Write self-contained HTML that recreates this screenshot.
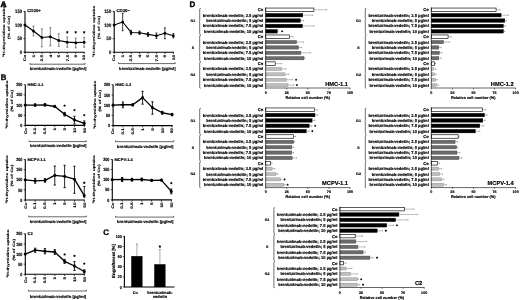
<!DOCTYPE html>
<html><head><meta charset="utf-8"><title>Figure</title>
<style>html,body{margin:0;padding:0;background:#fff;overflow:hidden}svg{display:block;font-family:"Liberation Sans",sans-serif;text-rendering:geometricPrecision;filter:grayscale(1)}</style></head>
<body>
<svg width="520" height="300" viewBox="0 0 5200 3000">
<rect x="0" y="0" width="5200" height="3000" fill="#fff"/>
<text font-size="80" text-anchor="start" fill="#000" font-weight="bold" stroke="#000" stroke-width="6" stroke-linejoin="round" transform="translate(6 70) scale(1.05 1)">A</text>
<text font-size="80" text-anchor="start" fill="#000" font-weight="bold" stroke="#000" stroke-width="3.5" stroke-linejoin="round" transform="translate(7 802) scale(0.97 1)">B</text>
<text font-size="80" text-anchor="start" fill="#000" font-weight="bold" stroke="#000" stroke-width="3.5" stroke-linejoin="round" transform="translate(1033 2345)">C</text>
<text font-size="80" text-anchor="start" fill="#000" font-weight="bold" stroke="#000" stroke-width="3" stroke-linejoin="round" transform="translate(1895 69)">D</text>
<line x1="250" y1="111" x2="250" y2="527.5" stroke="#000" stroke-width="11" stroke-linecap="butt"/>
<line x1="244.5" y1="522" x2="847.5" y2="522" stroke="#000" stroke-width="11" stroke-linecap="butt"/>
<line x1="234" y1="522" x2="250" y2="522" stroke="#000" stroke-width="7" stroke-linecap="butt"/>
<text font-size="46" text-anchor="end" fill="#000" font-weight="bold" stroke="#000" stroke-width="1.6" stroke-linejoin="round" transform="translate(220 539.9) scale(0.9 1.1)">0</text>
<line x1="234" y1="386" x2="250" y2="386" stroke="#000" stroke-width="7" stroke-linecap="butt"/>
<text font-size="46" text-anchor="end" fill="#000" font-weight="bold" stroke="#000" stroke-width="1.6" stroke-linejoin="round" transform="translate(220 403.9) scale(0.9 1.1)">50</text>
<line x1="234" y1="250" x2="250" y2="250" stroke="#000" stroke-width="7" stroke-linecap="butt"/>
<text font-size="46" text-anchor="end" fill="#000" font-weight="bold" stroke="#000" stroke-width="1.6" stroke-linejoin="round" transform="translate(220 267.9) scale(0.9 1.1)">100</text>
<line x1="234" y1="114" x2="250" y2="114" stroke="#000" stroke-width="7" stroke-linecap="butt"/>
<text font-size="46" text-anchor="end" fill="#000" font-weight="bold" stroke="#000" stroke-width="1.6" stroke-linejoin="round" transform="translate(220 131.9) scale(0.9 1.1)">150</text>
<line x1="250" y1="522" x2="250" y2="540" stroke="#000" stroke-width="7" stroke-linecap="butt"/>
<text font-size="49" text-anchor="end" fill="#000" font-weight="bold" stroke="#000" stroke-width="1.6" stroke-linejoin="round" transform="translate(262.5 547.5) rotate(-90) scale(1 0.7551020408163265)">Co</text>
<line x1="334.5" y1="522" x2="334.5" y2="540" stroke="#000" stroke-width="7" stroke-linecap="butt"/>
<text font-size="49" text-anchor="end" fill="#000" font-weight="bold" stroke="#000" stroke-width="1.6" stroke-linejoin="round" transform="translate(347 547.5) rotate(-90) scale(1 0.7551020408163265)">1</text>
<line x1="419" y1="522" x2="419" y2="540" stroke="#000" stroke-width="7" stroke-linecap="butt"/>
<text font-size="49" text-anchor="end" fill="#000" font-weight="bold" stroke="#000" stroke-width="1.6" stroke-linejoin="round" transform="translate(431.5 547.5) rotate(-90) scale(1 0.7551020408163265)">2.5</text>
<line x1="503.5" y1="522" x2="503.5" y2="540" stroke="#000" stroke-width="7" stroke-linecap="butt"/>
<text font-size="49" text-anchor="end" fill="#000" font-weight="bold" stroke="#000" stroke-width="1.6" stroke-linejoin="round" transform="translate(516 547.5) rotate(-90) scale(1 0.7551020408163265)">4</text>
<line x1="588" y1="522" x2="588" y2="540" stroke="#000" stroke-width="7" stroke-linecap="butt"/>
<text font-size="49" text-anchor="end" fill="#000" font-weight="bold" stroke="#000" stroke-width="1.6" stroke-linejoin="round" transform="translate(600.5 547.5) rotate(-90) scale(1 0.7551020408163265)">5</text>
<line x1="672.5" y1="522" x2="672.5" y2="540" stroke="#000" stroke-width="7" stroke-linecap="butt"/>
<text font-size="49" text-anchor="end" fill="#000" font-weight="bold" stroke="#000" stroke-width="1.6" stroke-linejoin="round" transform="translate(685 547.5) rotate(-90) scale(1 0.7551020408163265)">7.5</text>
<line x1="757" y1="522" x2="757" y2="540" stroke="#000" stroke-width="7" stroke-linecap="butt"/>
<text font-size="49" text-anchor="end" fill="#000" font-weight="bold" stroke="#000" stroke-width="1.6" stroke-linejoin="round" transform="translate(769.5 547.5) rotate(-90) scale(1 0.7551020408163265)">9</text>
<line x1="841.5" y1="522" x2="841.5" y2="540" stroke="#000" stroke-width="7" stroke-linecap="butt"/>
<text font-size="49" text-anchor="end" fill="#000" font-weight="bold" stroke="#000" stroke-width="1.6" stroke-linejoin="round" transform="translate(854 547.5) rotate(-90) scale(1 0.7551020408163265)">10</text>
<line x1="300" y1="642" x2="850" y2="642" stroke="#000" stroke-width="6" stroke-linecap="butt"/>
<line x1="300" y1="629" x2="300" y2="645" stroke="#000" stroke-width="6" stroke-linecap="butt"/>
<line x1="850" y1="629" x2="850" y2="645" stroke="#000" stroke-width="6" stroke-linecap="butt"/>
<text font-size="42" text-anchor="middle" fill="#000" font-weight="bold" stroke="#000" stroke-width="1.6" stroke-linejoin="round" transform="translate(580 698)">brentuximab-vedotin [µg/ml]</text>
<text font-size="53.5" text-anchor="middle" fill="#000" font-weight="bold" stroke="#000" stroke-width="1.6" stroke-linejoin="round" transform="translate(53.5 313) rotate(-90) scale(1 0.616822429906542)"><tspan font-size="33.7" dy="-17.1">3</tspan><tspan dy="17.1">H-thymidine uptake</tspan></text>
<text font-size="53.5" text-anchor="middle" fill="#000" font-weight="bold" stroke="#000" stroke-width="1.6" stroke-linejoin="round" transform="translate(96.5 275) rotate(-90) scale(1 0.616822429906542)">(% of Co)</text>
<text font-size="43.5" text-anchor="start" fill="#000" font-weight="bold" stroke="#000" stroke-width="1.6" stroke-linejoin="round" transform="translate(272 122)">CD30+</text>
<line x1="334.5" y1="260.9" x2="334.5" y2="358.8" stroke="#222" stroke-width="5.5" stroke-linecap="butt"/>
<line x1="324.5" y1="260.9" x2="344.5" y2="260.9" stroke="#222" stroke-width="5.5" stroke-linecap="butt"/>
<line x1="324.5" y1="358.8" x2="344.5" y2="358.8" stroke="#222" stroke-width="5.5" stroke-linecap="butt"/>
<line x1="419" y1="288.1" x2="419" y2="467.6" stroke="#222" stroke-width="5.5" stroke-linecap="butt"/>
<line x1="409" y1="288.1" x2="429" y2="288.1" stroke="#222" stroke-width="5.5" stroke-linecap="butt"/>
<line x1="409" y1="467.6" x2="429" y2="467.6" stroke="#222" stroke-width="5.5" stroke-linecap="butt"/>
<line x1="503.5" y1="277.2" x2="503.5" y2="459.4" stroke="#222" stroke-width="5.5" stroke-linecap="butt"/>
<line x1="493.5" y1="277.2" x2="513.5" y2="277.2" stroke="#222" stroke-width="5.5" stroke-linecap="butt"/>
<line x1="493.5" y1="459.4" x2="513.5" y2="459.4" stroke="#222" stroke-width="5.5" stroke-linecap="butt"/>
<line x1="588" y1="337" x2="588" y2="462.2" stroke="#222" stroke-width="5.5" stroke-linecap="butt"/>
<line x1="578" y1="337" x2="598" y2="337" stroke="#222" stroke-width="5.5" stroke-linecap="butt"/>
<line x1="578" y1="462.2" x2="598" y2="462.2" stroke="#222" stroke-width="5.5" stroke-linecap="butt"/>
<line x1="672.5" y1="369.7" x2="672.5" y2="473" stroke="#222" stroke-width="5.5" stroke-linecap="butt"/>
<line x1="662.5" y1="369.7" x2="682.5" y2="369.7" stroke="#222" stroke-width="5.5" stroke-linecap="butt"/>
<line x1="662.5" y1="473" x2="682.5" y2="473" stroke="#222" stroke-width="5.5" stroke-linecap="butt"/>
<line x1="757" y1="380.6" x2="757" y2="478.5" stroke="#222" stroke-width="5.5" stroke-linecap="butt"/>
<line x1="747" y1="380.6" x2="767" y2="380.6" stroke="#222" stroke-width="5.5" stroke-linecap="butt"/>
<line x1="747" y1="478.5" x2="767" y2="478.5" stroke="#222" stroke-width="5.5" stroke-linecap="butt"/>
<line x1="841.5" y1="373.8" x2="841.5" y2="471.7" stroke="#222" stroke-width="5.5" stroke-linecap="butt"/>
<line x1="831.5" y1="373.8" x2="851.5" y2="373.8" stroke="#222" stroke-width="5.5" stroke-linecap="butt"/>
<line x1="831.5" y1="471.7" x2="851.5" y2="471.7" stroke="#222" stroke-width="5.5" stroke-linecap="butt"/>
<polyline points="250,250 334.5,309.8 419,375.1 503.5,367 588,405 672.5,421.4 757,426.8 841.5,422.7" fill="none" stroke="#000" stroke-width="11.5" stroke-linejoin="round"/>
<ellipse cx="250" cy="250" rx="13.5" ry="15" fill="#000"/>
<ellipse cx="334.5" cy="309.8" rx="13.5" ry="15" fill="#000"/>
<ellipse cx="419" cy="375.1" rx="13.5" ry="15" fill="#000"/>
<ellipse cx="503.5" cy="367" rx="13.5" ry="15" fill="#000"/>
<ellipse cx="588" cy="405" rx="13.5" ry="15" fill="#000"/>
<ellipse cx="672.5" cy="421.4" rx="13.5" ry="15" fill="#000"/>
<ellipse cx="757" cy="426.8" rx="13.5" ry="15" fill="#000"/>
<ellipse cx="841.5" cy="422.7" rx="13.5" ry="15" fill="#000"/>
<polygon points="672.5,308.5 677.5,316.1 686.3,318.5 680.6,325.6 681,334.7 672.5,331.5 664,334.7 664.4,325.6 658.7,318.5 667.5,316.1" fill="#000"/>
<polygon points="757,308.5 762,316.1 770.8,318.5 765.1,325.6 765.5,334.7 757,331.5 748.5,334.7 748.9,325.6 743.2,318.5 752,316.1" fill="#000"/>
<polygon points="841.5,308.5 846.5,316.1 855.3,318.5 849.6,325.6 850,334.7 841.5,331.5 833,334.7 833.4,325.6 827.7,318.5 836.5,316.1" fill="#000"/>
<line x1="1142" y1="111" x2="1142" y2="527.5" stroke="#000" stroke-width="11" stroke-linecap="butt"/>
<line x1="1136.5" y1="522" x2="1739.5" y2="522" stroke="#000" stroke-width="11" stroke-linecap="butt"/>
<line x1="1126" y1="522" x2="1142" y2="522" stroke="#000" stroke-width="7" stroke-linecap="butt"/>
<text font-size="46" text-anchor="end" fill="#000" font-weight="bold" stroke="#000" stroke-width="1.6" stroke-linejoin="round" transform="translate(1112 539.9) scale(0.9 1.1)">0</text>
<line x1="1126" y1="386" x2="1142" y2="386" stroke="#000" stroke-width="7" stroke-linecap="butt"/>
<text font-size="46" text-anchor="end" fill="#000" font-weight="bold" stroke="#000" stroke-width="1.6" stroke-linejoin="round" transform="translate(1112 403.9) scale(0.9 1.1)">50</text>
<line x1="1126" y1="250" x2="1142" y2="250" stroke="#000" stroke-width="7" stroke-linecap="butt"/>
<text font-size="46" text-anchor="end" fill="#000" font-weight="bold" stroke="#000" stroke-width="1.6" stroke-linejoin="round" transform="translate(1112 267.9) scale(0.9 1.1)">100</text>
<line x1="1126" y1="114" x2="1142" y2="114" stroke="#000" stroke-width="7" stroke-linecap="butt"/>
<text font-size="46" text-anchor="end" fill="#000" font-weight="bold" stroke="#000" stroke-width="1.6" stroke-linejoin="round" transform="translate(1112 131.9) scale(0.9 1.1)">150</text>
<line x1="1142" y1="522" x2="1142" y2="540" stroke="#000" stroke-width="7" stroke-linecap="butt"/>
<text font-size="49" text-anchor="end" fill="#000" font-weight="bold" stroke="#000" stroke-width="1.6" stroke-linejoin="round" transform="translate(1154.5 547.5) rotate(-90) scale(1 0.7551020408163265)">Co</text>
<line x1="1226.5" y1="522" x2="1226.5" y2="540" stroke="#000" stroke-width="7" stroke-linecap="butt"/>
<text font-size="49" text-anchor="end" fill="#000" font-weight="bold" stroke="#000" stroke-width="1.6" stroke-linejoin="round" transform="translate(1239 547.5) rotate(-90) scale(1 0.7551020408163265)">1</text>
<line x1="1311" y1="522" x2="1311" y2="540" stroke="#000" stroke-width="7" stroke-linecap="butt"/>
<text font-size="49" text-anchor="end" fill="#000" font-weight="bold" stroke="#000" stroke-width="1.6" stroke-linejoin="round" transform="translate(1323.5 547.5) rotate(-90) scale(1 0.7551020408163265)">2.5</text>
<line x1="1395.5" y1="522" x2="1395.5" y2="540" stroke="#000" stroke-width="7" stroke-linecap="butt"/>
<text font-size="49" text-anchor="end" fill="#000" font-weight="bold" stroke="#000" stroke-width="1.6" stroke-linejoin="round" transform="translate(1408 547.5) rotate(-90) scale(1 0.7551020408163265)">4</text>
<line x1="1480" y1="522" x2="1480" y2="540" stroke="#000" stroke-width="7" stroke-linecap="butt"/>
<text font-size="49" text-anchor="end" fill="#000" font-weight="bold" stroke="#000" stroke-width="1.6" stroke-linejoin="round" transform="translate(1492.5 547.5) rotate(-90) scale(1 0.7551020408163265)">5</text>
<line x1="1564.5" y1="522" x2="1564.5" y2="540" stroke="#000" stroke-width="7" stroke-linecap="butt"/>
<text font-size="49" text-anchor="end" fill="#000" font-weight="bold" stroke="#000" stroke-width="1.6" stroke-linejoin="round" transform="translate(1577 547.5) rotate(-90) scale(1 0.7551020408163265)">7.5</text>
<line x1="1649" y1="522" x2="1649" y2="540" stroke="#000" stroke-width="7" stroke-linecap="butt"/>
<text font-size="49" text-anchor="end" fill="#000" font-weight="bold" stroke="#000" stroke-width="1.6" stroke-linejoin="round" transform="translate(1661.5 547.5) rotate(-90) scale(1 0.7551020408163265)">9</text>
<line x1="1733.5" y1="522" x2="1733.5" y2="540" stroke="#000" stroke-width="7" stroke-linecap="butt"/>
<text font-size="49" text-anchor="end" fill="#000" font-weight="bold" stroke="#000" stroke-width="1.6" stroke-linejoin="round" transform="translate(1746 547.5) rotate(-90) scale(1 0.7551020408163265)">10</text>
<line x1="1186" y1="636" x2="1751" y2="636" stroke="#000" stroke-width="6" stroke-linecap="butt"/>
<line x1="1186" y1="623" x2="1186" y2="639" stroke="#000" stroke-width="6" stroke-linecap="butt"/>
<line x1="1751" y1="623" x2="1751" y2="639" stroke="#000" stroke-width="6" stroke-linecap="butt"/>
<text font-size="42" text-anchor="middle" fill="#000" font-weight="bold" stroke="#000" stroke-width="1.6" stroke-linejoin="round" transform="translate(1473.5 700)">brentuximab-vedotin [µg/ml]</text>
<text font-size="53.5" text-anchor="middle" fill="#000" font-weight="bold" stroke="#000" stroke-width="1.6" stroke-linejoin="round" transform="translate(952.5 313) rotate(-90) scale(1 0.616822429906542)"><tspan font-size="33.7" dy="-17.1">3</tspan><tspan dy="17.1">H-thymidine uptake</tspan></text>
<text font-size="53.5" text-anchor="middle" fill="#000" font-weight="bold" stroke="#000" stroke-width="1.6" stroke-linejoin="round" transform="translate(996.5 275) rotate(-90) scale(1 0.616822429906542)">(% of Co)</text>
<text font-size="43.5" text-anchor="start" fill="#000" font-weight="bold" stroke="#000" stroke-width="1.6" stroke-linejoin="round" transform="translate(1164 123)">CD30−</text>
<line x1="1226.5" y1="133" x2="1226.5" y2="307.1" stroke="#000" stroke-width="7.5" stroke-linecap="butt"/>
<line x1="1216.5" y1="133" x2="1236.5" y2="133" stroke="#000" stroke-width="7.5" stroke-linecap="butt"/>
<line x1="1216.5" y1="307.1" x2="1236.5" y2="307.1" stroke="#000" stroke-width="7.5" stroke-linecap="butt"/>
<line x1="1311" y1="303" x2="1311" y2="346.6" stroke="#000" stroke-width="7.5" stroke-linecap="butt"/>
<line x1="1301" y1="303" x2="1321" y2="303" stroke="#000" stroke-width="7.5" stroke-linecap="butt"/>
<line x1="1301" y1="346.6" x2="1321" y2="346.6" stroke="#000" stroke-width="7.5" stroke-linecap="butt"/>
<line x1="1395.5" y1="311.2" x2="1395.5" y2="343.8" stroke="#000" stroke-width="7.5" stroke-linecap="butt"/>
<line x1="1385.5" y1="311.2" x2="1405.5" y2="311.2" stroke="#000" stroke-width="7.5" stroke-linecap="butt"/>
<line x1="1385.5" y1="343.8" x2="1405.5" y2="343.8" stroke="#000" stroke-width="7.5" stroke-linecap="butt"/>
<line x1="1480" y1="324.8" x2="1480" y2="362.9" stroke="#000" stroke-width="7.5" stroke-linecap="butt"/>
<line x1="1470" y1="324.8" x2="1490" y2="324.8" stroke="#000" stroke-width="7.5" stroke-linecap="butt"/>
<line x1="1470" y1="362.9" x2="1490" y2="362.9" stroke="#000" stroke-width="7.5" stroke-linecap="butt"/>
<line x1="1564.5" y1="330.2" x2="1564.5" y2="384.6" stroke="#000" stroke-width="7.5" stroke-linecap="butt"/>
<line x1="1554.5" y1="330.2" x2="1574.5" y2="330.2" stroke="#000" stroke-width="7.5" stroke-linecap="butt"/>
<line x1="1554.5" y1="384.6" x2="1574.5" y2="384.6" stroke="#000" stroke-width="7.5" stroke-linecap="butt"/>
<line x1="1649" y1="278.6" x2="1649" y2="387.4" stroke="#000" stroke-width="7.5" stroke-linecap="butt"/>
<line x1="1639" y1="278.6" x2="1659" y2="278.6" stroke="#000" stroke-width="7.5" stroke-linecap="butt"/>
<line x1="1639" y1="387.4" x2="1659" y2="387.4" stroke="#000" stroke-width="7.5" stroke-linecap="butt"/>
<line x1="1733.5" y1="335.7" x2="1733.5" y2="379.2" stroke="#000" stroke-width="7.5" stroke-linecap="butt"/>
<line x1="1723.5" y1="335.7" x2="1743.5" y2="335.7" stroke="#000" stroke-width="7.5" stroke-linecap="butt"/>
<line x1="1723.5" y1="379.2" x2="1743.5" y2="379.2" stroke="#000" stroke-width="7.5" stroke-linecap="butt"/>
<polyline points="1142,250 1226.5,220.1 1311,324.8 1395.5,327.5 1480,343.8 1564.5,357.4 1649,333 1733.5,357.4" fill="none" stroke="#000" stroke-width="11.5" stroke-linejoin="round"/>
<ellipse cx="1142" cy="250" rx="13.5" ry="15" fill="#000"/>
<ellipse cx="1226.5" cy="220.1" rx="13.5" ry="15" fill="#000"/>
<ellipse cx="1311" cy="324.8" rx="13.5" ry="15" fill="#000"/>
<ellipse cx="1395.5" cy="327.5" rx="13.5" ry="15" fill="#000"/>
<ellipse cx="1480" cy="343.8" rx="13.5" ry="15" fill="#000"/>
<ellipse cx="1564.5" cy="357.4" rx="13.5" ry="15" fill="#000"/>
<ellipse cx="1649" cy="333" rx="13.5" ry="15" fill="#000"/>
<ellipse cx="1733.5" cy="357.4" rx="13.5" ry="15" fill="#000"/>
<line x1="253" y1="844" x2="253" y2="1259.5" stroke="#000" stroke-width="11" stroke-linecap="butt"/>
<line x1="247.5" y1="1254" x2="848.8" y2="1254" stroke="#000" stroke-width="11" stroke-linecap="butt"/>
<line x1="237" y1="1254" x2="253" y2="1254" stroke="#000" stroke-width="7" stroke-linecap="butt"/>
<text font-size="41" text-anchor="end" fill="#000" font-weight="bold" stroke="#000" stroke-width="1.6" stroke-linejoin="round" transform="translate(223 1270) scale(0.9 1.1)">0</text>
<line x1="237" y1="1152.2" x2="253" y2="1152.2" stroke="#000" stroke-width="7" stroke-linecap="butt"/>
<text font-size="41" text-anchor="end" fill="#000" font-weight="bold" stroke="#000" stroke-width="1.6" stroke-linejoin="round" transform="translate(223 1168.2) scale(0.9 1.1)">50</text>
<line x1="237" y1="1050.5" x2="253" y2="1050.5" stroke="#000" stroke-width="7" stroke-linecap="butt"/>
<text font-size="41" text-anchor="end" fill="#000" font-weight="bold" stroke="#000" stroke-width="1.6" stroke-linejoin="round" transform="translate(223 1066.5) scale(0.9 1.1)">100</text>
<line x1="237" y1="948.8" x2="253" y2="948.8" stroke="#000" stroke-width="7" stroke-linecap="butt"/>
<text font-size="41" text-anchor="end" fill="#000" font-weight="bold" stroke="#000" stroke-width="1.6" stroke-linejoin="round" transform="translate(223 964.7) scale(0.9 1.1)">150</text>
<line x1="237" y1="847" x2="253" y2="847" stroke="#000" stroke-width="7" stroke-linecap="butt"/>
<text font-size="41" text-anchor="end" fill="#000" font-weight="bold" stroke="#000" stroke-width="1.6" stroke-linejoin="round" transform="translate(223 863) scale(0.9 1.1)">200</text>
<line x1="253" y1="1254" x2="253" y2="1272" stroke="#000" stroke-width="7" stroke-linecap="butt"/>
<text font-size="46" text-anchor="end" fill="#000" font-weight="bold" stroke="#000" stroke-width="1.6" stroke-linejoin="round" transform="translate(265.5 1279.5) rotate(-90) scale(1 0.8043478260869567)">Co</text>
<line x1="351.3" y1="1254" x2="351.3" y2="1272" stroke="#000" stroke-width="7" stroke-linecap="butt"/>
<text font-size="46" text-anchor="end" fill="#000" font-weight="bold" stroke="#000" stroke-width="1.6" stroke-linejoin="round" transform="translate(363.8 1279.5) rotate(-90) scale(1 0.8043478260869567)">0.1</text>
<line x1="449.6" y1="1254" x2="449.6" y2="1272" stroke="#000" stroke-width="7" stroke-linecap="butt"/>
<text font-size="46" text-anchor="end" fill="#000" font-weight="bold" stroke="#000" stroke-width="1.6" stroke-linejoin="round" transform="translate(462.1 1279.5) rotate(-90) scale(1 0.8043478260869567)">0.5</text>
<line x1="547.9" y1="1254" x2="547.9" y2="1272" stroke="#000" stroke-width="7" stroke-linecap="butt"/>
<text font-size="46" text-anchor="end" fill="#000" font-weight="bold" stroke="#000" stroke-width="1.6" stroke-linejoin="round" transform="translate(560.4 1279.5) rotate(-90) scale(1 0.8043478260869567)">1</text>
<line x1="646.2" y1="1254" x2="646.2" y2="1272" stroke="#000" stroke-width="7" stroke-linecap="butt"/>
<text font-size="46" text-anchor="end" fill="#000" font-weight="bold" stroke="#000" stroke-width="1.6" stroke-linejoin="round" transform="translate(658.7 1279.5) rotate(-90) scale(1 0.8043478260869567)">5</text>
<line x1="744.5" y1="1254" x2="744.5" y2="1272" stroke="#000" stroke-width="7" stroke-linecap="butt"/>
<text font-size="46" text-anchor="end" fill="#000" font-weight="bold" stroke="#000" stroke-width="1.6" stroke-linejoin="round" transform="translate(757 1279.5) rotate(-90) scale(1 0.8043478260869567)">10</text>
<line x1="842.8" y1="1254" x2="842.8" y2="1272" stroke="#000" stroke-width="7" stroke-linecap="butt"/>
<text font-size="46" text-anchor="end" fill="#000" font-weight="bold" stroke="#000" stroke-width="1.6" stroke-linejoin="round" transform="translate(855.3 1279.5) rotate(-90) scale(1 0.8043478260869567)">50</text>
<line x1="292" y1="1416" x2="862" y2="1416" stroke="#000" stroke-width="6" stroke-linecap="butt"/>
<line x1="292" y1="1403" x2="292" y2="1419" stroke="#000" stroke-width="6" stroke-linecap="butt"/>
<line x1="862" y1="1403" x2="862" y2="1419" stroke="#000" stroke-width="6" stroke-linecap="butt"/>
<text font-size="42" text-anchor="middle" fill="#000" font-weight="bold" stroke="#000" stroke-width="1.6" stroke-linejoin="round" transform="translate(582 1474)">brentuximab-vedotin [µg/ml]</text>
<text font-size="50" text-anchor="middle" fill="#000" font-weight="bold" stroke="#000" stroke-width="1.6" stroke-linejoin="round" transform="translate(78 1045.5) rotate(-90) scale(1 0.6599999999999999)"><tspan font-size="31.5" dy="-16">3</tspan><tspan dy="16">H-thymidine uptake</tspan></text>
<text font-size="50" text-anchor="middle" fill="#000" font-weight="bold" stroke="#000" stroke-width="1.6" stroke-linejoin="round" transform="translate(127 1007.5) rotate(-90) scale(1 0.6599999999999999)">(% of Co)</text>
<text font-size="40" text-anchor="start" fill="#000" font-weight="bold" stroke="#000" stroke-width="1.6" stroke-linejoin="round" transform="translate(275 862)">HMC-1.1</text>
<line x1="351.3" y1="1038.3" x2="351.3" y2="1062.7" stroke="#000" stroke-width="8.5" stroke-linecap="butt"/>
<line x1="339.8" y1="1038.3" x2="362.8" y2="1038.3" stroke="#000" stroke-width="8.5" stroke-linecap="butt"/>
<line x1="339.8" y1="1062.7" x2="362.8" y2="1062.7" stroke="#000" stroke-width="8.5" stroke-linecap="butt"/>
<line x1="449.6" y1="1036.3" x2="449.6" y2="1060.7" stroke="#000" stroke-width="8.5" stroke-linecap="butt"/>
<line x1="438.1" y1="1036.3" x2="461.1" y2="1036.3" stroke="#000" stroke-width="8.5" stroke-linecap="butt"/>
<line x1="438.1" y1="1060.7" x2="461.1" y2="1060.7" stroke="#000" stroke-width="8.5" stroke-linecap="butt"/>
<line x1="547.9" y1="1054.6" x2="547.9" y2="1074.9" stroke="#000" stroke-width="8.5" stroke-linecap="butt"/>
<line x1="536.4" y1="1054.6" x2="559.4" y2="1054.6" stroke="#000" stroke-width="8.5" stroke-linecap="butt"/>
<line x1="536.4" y1="1074.9" x2="559.4" y2="1074.9" stroke="#000" stroke-width="8.5" stroke-linecap="butt"/>
<line x1="646.2" y1="1123.8" x2="646.2" y2="1160.4" stroke="#000" stroke-width="8.5" stroke-linecap="butt"/>
<line x1="634.7" y1="1123.8" x2="657.7" y2="1123.8" stroke="#000" stroke-width="8.5" stroke-linecap="butt"/>
<line x1="634.7" y1="1160.4" x2="657.7" y2="1160.4" stroke="#000" stroke-width="8.5" stroke-linecap="butt"/>
<line x1="744.5" y1="1162.4" x2="744.5" y2="1239.8" stroke="#000" stroke-width="8.5" stroke-linecap="butt"/>
<line x1="733" y1="1162.4" x2="756" y2="1162.4" stroke="#000" stroke-width="8.5" stroke-linecap="butt"/>
<line x1="733" y1="1239.8" x2="756" y2="1239.8" stroke="#000" stroke-width="8.5" stroke-linecap="butt"/>
<line x1="842.8" y1="1209.2" x2="842.8" y2="1254" stroke="#000" stroke-width="8.5" stroke-linecap="butt"/>
<line x1="831.3" y1="1209.2" x2="854.3" y2="1209.2" stroke="#000" stroke-width="8.5" stroke-linecap="butt"/>
<line x1="831.3" y1="1254" x2="854.3" y2="1254" stroke="#000" stroke-width="8.5" stroke-linecap="butt"/>
<polyline points="253,1050.5 351.3,1050.5 449.6,1048.5 547.9,1064.7 646.2,1142.1 744.5,1199.1 842.8,1233.7" fill="none" stroke="#000" stroke-width="13.5" stroke-linejoin="round"/>
<ellipse cx="253" cy="1050.5" rx="14.5" ry="16.5" fill="#000"/>
<ellipse cx="351.3" cy="1050.5" rx="14.5" ry="16.5" fill="#000"/>
<ellipse cx="449.6" cy="1048.5" rx="14.5" ry="16.5" fill="#000"/>
<ellipse cx="547.9" cy="1064.7" rx="14.5" ry="16.5" fill="#000"/>
<ellipse cx="646.2" cy="1142.1" rx="14.5" ry="16.5" fill="#000"/>
<ellipse cx="744.5" cy="1199.1" rx="14.5" ry="16.5" fill="#000"/>
<ellipse cx="842.8" cy="1233.7" rx="14.5" ry="16.5" fill="#000"/>
<polygon points="646.2,1042.5 651.2,1050.1 660,1052.5 654.3,1059.6 654.7,1068.7 646.2,1065.5 637.7,1068.7 638.1,1059.6 632.4,1052.5 641.2,1050.1" fill="#000"/>
<polygon points="744.5,1086.5 749.5,1094.1 758.3,1096.5 752.6,1103.6 753,1112.7 744.5,1109.5 736,1112.7 736.4,1103.6 730.7,1096.5 739.5,1094.1" fill="#000"/>
<polygon points="842.8,1136.5 847.8,1144.1 856.6,1146.5 850.9,1153.6 851.3,1162.7 842.8,1159.5 834.3,1162.7 834.7,1153.6 829,1146.5 837.8,1144.1" fill="#000"/>
<line x1="1131" y1="845" x2="1131" y2="1261.5" stroke="#000" stroke-width="11" stroke-linecap="butt"/>
<line x1="1125.5" y1="1256" x2="1726.8" y2="1256" stroke="#000" stroke-width="11" stroke-linecap="butt"/>
<line x1="1115" y1="1256" x2="1131" y2="1256" stroke="#000" stroke-width="7" stroke-linecap="butt"/>
<text font-size="41" text-anchor="end" fill="#000" font-weight="bold" stroke="#000" stroke-width="1.6" stroke-linejoin="round" transform="translate(1101 1272) scale(0.9 1.1)">0</text>
<line x1="1115" y1="1154" x2="1131" y2="1154" stroke="#000" stroke-width="7" stroke-linecap="butt"/>
<text font-size="41" text-anchor="end" fill="#000" font-weight="bold" stroke="#000" stroke-width="1.6" stroke-linejoin="round" transform="translate(1101 1170) scale(0.9 1.1)">50</text>
<line x1="1115" y1="1052" x2="1131" y2="1052" stroke="#000" stroke-width="7" stroke-linecap="butt"/>
<text font-size="41" text-anchor="end" fill="#000" font-weight="bold" stroke="#000" stroke-width="1.6" stroke-linejoin="round" transform="translate(1101 1068) scale(0.9 1.1)">100</text>
<line x1="1115" y1="950" x2="1131" y2="950" stroke="#000" stroke-width="7" stroke-linecap="butt"/>
<text font-size="41" text-anchor="end" fill="#000" font-weight="bold" stroke="#000" stroke-width="1.6" stroke-linejoin="round" transform="translate(1101 966) scale(0.9 1.1)">150</text>
<line x1="1115" y1="848" x2="1131" y2="848" stroke="#000" stroke-width="7" stroke-linecap="butt"/>
<text font-size="41" text-anchor="end" fill="#000" font-weight="bold" stroke="#000" stroke-width="1.6" stroke-linejoin="round" transform="translate(1101 864) scale(0.9 1.1)">200</text>
<line x1="1131" y1="1256" x2="1131" y2="1274" stroke="#000" stroke-width="7" stroke-linecap="butt"/>
<text font-size="46" text-anchor="end" fill="#000" font-weight="bold" stroke="#000" stroke-width="1.6" stroke-linejoin="round" transform="translate(1143.5 1281.5) rotate(-90) scale(1 0.8043478260869567)">Co</text>
<line x1="1229.3" y1="1256" x2="1229.3" y2="1274" stroke="#000" stroke-width="7" stroke-linecap="butt"/>
<text font-size="46" text-anchor="end" fill="#000" font-weight="bold" stroke="#000" stroke-width="1.6" stroke-linejoin="round" transform="translate(1241.8 1281.5) rotate(-90) scale(1 0.8043478260869567)">0.1</text>
<line x1="1327.6" y1="1256" x2="1327.6" y2="1274" stroke="#000" stroke-width="7" stroke-linecap="butt"/>
<text font-size="46" text-anchor="end" fill="#000" font-weight="bold" stroke="#000" stroke-width="1.6" stroke-linejoin="round" transform="translate(1340.1 1281.5) rotate(-90) scale(1 0.8043478260869567)">0.5</text>
<line x1="1425.9" y1="1256" x2="1425.9" y2="1274" stroke="#000" stroke-width="7" stroke-linecap="butt"/>
<text font-size="46" text-anchor="end" fill="#000" font-weight="bold" stroke="#000" stroke-width="1.6" stroke-linejoin="round" transform="translate(1438.4 1281.5) rotate(-90) scale(1 0.8043478260869567)">1</text>
<line x1="1524.2" y1="1256" x2="1524.2" y2="1274" stroke="#000" stroke-width="7" stroke-linecap="butt"/>
<text font-size="46" text-anchor="end" fill="#000" font-weight="bold" stroke="#000" stroke-width="1.6" stroke-linejoin="round" transform="translate(1536.7 1281.5) rotate(-90) scale(1 0.8043478260869567)">5</text>
<line x1="1622.5" y1="1256" x2="1622.5" y2="1274" stroke="#000" stroke-width="7" stroke-linecap="butt"/>
<text font-size="46" text-anchor="end" fill="#000" font-weight="bold" stroke="#000" stroke-width="1.6" stroke-linejoin="round" transform="translate(1635 1281.5) rotate(-90) scale(1 0.8043478260869567)">10</text>
<line x1="1720.8" y1="1256" x2="1720.8" y2="1274" stroke="#000" stroke-width="7" stroke-linecap="butt"/>
<text font-size="46" text-anchor="end" fill="#000" font-weight="bold" stroke="#000" stroke-width="1.6" stroke-linejoin="round" transform="translate(1733.3 1281.5) rotate(-90) scale(1 0.8043478260869567)">50</text>
<line x1="1156" y1="1417" x2="1737" y2="1417" stroke="#000" stroke-width="6" stroke-linecap="butt"/>
<line x1="1156" y1="1404" x2="1156" y2="1420" stroke="#000" stroke-width="6" stroke-linecap="butt"/>
<line x1="1737" y1="1404" x2="1737" y2="1420" stroke="#000" stroke-width="6" stroke-linecap="butt"/>
<text font-size="42" text-anchor="middle" fill="#000" font-weight="bold" stroke="#000" stroke-width="1.6" stroke-linejoin="round" transform="translate(1451.5 1477)">brentuximab-vedotin [µg/ml]</text>
<text font-size="50" text-anchor="middle" fill="#000" font-weight="bold" stroke="#000" stroke-width="1.6" stroke-linejoin="round" transform="translate(960 1047) rotate(-90) scale(1 0.6599999999999999)"><tspan font-size="31.5" dy="-16">3</tspan><tspan dy="16">H-thymidine uptake</tspan></text>
<text font-size="50" text-anchor="middle" fill="#000" font-weight="bold" stroke="#000" stroke-width="1.6" stroke-linejoin="round" transform="translate(1007 1009) rotate(-90) scale(1 0.6599999999999999)">(% of Co)</text>
<text font-size="40" text-anchor="start" fill="#000" font-weight="bold" stroke="#000" stroke-width="1.6" stroke-linejoin="round" transform="translate(1153 863)">HMC-1.2</text>
<line x1="1229.3" y1="1019.4" x2="1229.3" y2="1076.5" stroke="#000" stroke-width="8.5" stroke-linecap="butt"/>
<line x1="1217.8" y1="1019.4" x2="1240.8" y2="1019.4" stroke="#000" stroke-width="8.5" stroke-linecap="butt"/>
<line x1="1217.8" y1="1076.5" x2="1240.8" y2="1076.5" stroke="#000" stroke-width="8.5" stroke-linecap="butt"/>
<line x1="1327.6" y1="1037.7" x2="1327.6" y2="1058.1" stroke="#000" stroke-width="8.5" stroke-linecap="butt"/>
<line x1="1316.1" y1="1037.7" x2="1339.1" y2="1037.7" stroke="#000" stroke-width="8.5" stroke-linecap="butt"/>
<line x1="1316.1" y1="1058.1" x2="1339.1" y2="1058.1" stroke="#000" stroke-width="8.5" stroke-linecap="butt"/>
<line x1="1425.9" y1="913.3" x2="1425.9" y2="1041.8" stroke="#000" stroke-width="8.5" stroke-linecap="butt"/>
<line x1="1414.4" y1="913.3" x2="1437.4" y2="913.3" stroke="#000" stroke-width="8.5" stroke-linecap="butt"/>
<line x1="1414.4" y1="1041.8" x2="1437.4" y2="1041.8" stroke="#000" stroke-width="8.5" stroke-linecap="butt"/>
<line x1="1524.2" y1="1017.3" x2="1524.2" y2="1141.8" stroke="#000" stroke-width="8.5" stroke-linecap="butt"/>
<line x1="1512.7" y1="1017.3" x2="1535.7" y2="1017.3" stroke="#000" stroke-width="8.5" stroke-linecap="butt"/>
<line x1="1512.7" y1="1141.8" x2="1535.7" y2="1141.8" stroke="#000" stroke-width="8.5" stroke-linecap="butt"/>
<line x1="1622.5" y1="1113.2" x2="1622.5" y2="1141.8" stroke="#000" stroke-width="8.5" stroke-linecap="butt"/>
<line x1="1611" y1="1113.2" x2="1634" y2="1113.2" stroke="#000" stroke-width="8.5" stroke-linecap="butt"/>
<line x1="1611" y1="1141.8" x2="1634" y2="1141.8" stroke="#000" stroke-width="8.5" stroke-linecap="butt"/>
<line x1="1720.8" y1="1133.6" x2="1720.8" y2="1158.1" stroke="#000" stroke-width="8.5" stroke-linecap="butt"/>
<line x1="1709.3" y1="1133.6" x2="1732.3" y2="1133.6" stroke="#000" stroke-width="8.5" stroke-linecap="butt"/>
<line x1="1709.3" y1="1158.1" x2="1732.3" y2="1158.1" stroke="#000" stroke-width="8.5" stroke-linecap="butt"/>
<polyline points="1131,1052 1229.3,1047.9 1327.6,1047.9 1425.9,976.5 1524.2,1076.5 1622.5,1127.5 1720.8,1145.8" fill="none" stroke="#000" stroke-width="13.5" stroke-linejoin="round"/>
<ellipse cx="1131" cy="1052" rx="14.5" ry="16.5" fill="#000"/>
<ellipse cx="1229.3" cy="1047.9" rx="14.5" ry="16.5" fill="#000"/>
<ellipse cx="1327.6" cy="1047.9" rx="14.5" ry="16.5" fill="#000"/>
<ellipse cx="1425.9" cy="976.5" rx="14.5" ry="16.5" fill="#000"/>
<ellipse cx="1524.2" cy="1076.5" rx="14.5" ry="16.5" fill="#000"/>
<ellipse cx="1622.5" cy="1127.5" rx="14.5" ry="16.5" fill="#000"/>
<ellipse cx="1720.8" cy="1145.8" rx="14.5" ry="16.5" fill="#000"/>
<line x1="253" y1="1593" x2="253" y2="2005.5" stroke="#000" stroke-width="11" stroke-linecap="butt"/>
<line x1="247.5" y1="2000" x2="848.8" y2="2000" stroke="#000" stroke-width="11" stroke-linecap="butt"/>
<line x1="237" y1="2000" x2="253" y2="2000" stroke="#000" stroke-width="7" stroke-linecap="butt"/>
<text font-size="41" text-anchor="end" fill="#000" font-weight="bold" stroke="#000" stroke-width="1.6" stroke-linejoin="round" transform="translate(223 2016) scale(0.9 1.1)">0</text>
<line x1="237" y1="1899" x2="253" y2="1899" stroke="#000" stroke-width="7" stroke-linecap="butt"/>
<text font-size="41" text-anchor="end" fill="#000" font-weight="bold" stroke="#000" stroke-width="1.6" stroke-linejoin="round" transform="translate(223 1915) scale(0.9 1.1)">50</text>
<line x1="237" y1="1798" x2="253" y2="1798" stroke="#000" stroke-width="7" stroke-linecap="butt"/>
<text font-size="41" text-anchor="end" fill="#000" font-weight="bold" stroke="#000" stroke-width="1.6" stroke-linejoin="round" transform="translate(223 1814) scale(0.9 1.1)">100</text>
<line x1="237" y1="1697" x2="253" y2="1697" stroke="#000" stroke-width="7" stroke-linecap="butt"/>
<text font-size="41" text-anchor="end" fill="#000" font-weight="bold" stroke="#000" stroke-width="1.6" stroke-linejoin="round" transform="translate(223 1713) scale(0.9 1.1)">150</text>
<line x1="237" y1="1596" x2="253" y2="1596" stroke="#000" stroke-width="7" stroke-linecap="butt"/>
<text font-size="41" text-anchor="end" fill="#000" font-weight="bold" stroke="#000" stroke-width="1.6" stroke-linejoin="round" transform="translate(223 1612) scale(0.9 1.1)">200</text>
<line x1="253" y1="2000" x2="253" y2="2018" stroke="#000" stroke-width="7" stroke-linecap="butt"/>
<text font-size="46" text-anchor="end" fill="#000" font-weight="bold" stroke="#000" stroke-width="1.6" stroke-linejoin="round" transform="translate(265.5 2025.5) rotate(-90) scale(1 0.8043478260869567)">Co</text>
<line x1="351.3" y1="2000" x2="351.3" y2="2018" stroke="#000" stroke-width="7" stroke-linecap="butt"/>
<text font-size="46" text-anchor="end" fill="#000" font-weight="bold" stroke="#000" stroke-width="1.6" stroke-linejoin="round" transform="translate(363.8 2025.5) rotate(-90) scale(1 0.8043478260869567)">0.1</text>
<line x1="449.6" y1="2000" x2="449.6" y2="2018" stroke="#000" stroke-width="7" stroke-linecap="butt"/>
<text font-size="46" text-anchor="end" fill="#000" font-weight="bold" stroke="#000" stroke-width="1.6" stroke-linejoin="round" transform="translate(462.1 2025.5) rotate(-90) scale(1 0.8043478260869567)">0.5</text>
<line x1="547.9" y1="2000" x2="547.9" y2="2018" stroke="#000" stroke-width="7" stroke-linecap="butt"/>
<text font-size="46" text-anchor="end" fill="#000" font-weight="bold" stroke="#000" stroke-width="1.6" stroke-linejoin="round" transform="translate(560.4 2025.5) rotate(-90) scale(1 0.8043478260869567)">1</text>
<line x1="646.2" y1="2000" x2="646.2" y2="2018" stroke="#000" stroke-width="7" stroke-linecap="butt"/>
<text font-size="46" text-anchor="end" fill="#000" font-weight="bold" stroke="#000" stroke-width="1.6" stroke-linejoin="round" transform="translate(658.7 2025.5) rotate(-90) scale(1 0.8043478260869567)">5</text>
<line x1="744.5" y1="2000" x2="744.5" y2="2018" stroke="#000" stroke-width="7" stroke-linecap="butt"/>
<text font-size="46" text-anchor="end" fill="#000" font-weight="bold" stroke="#000" stroke-width="1.6" stroke-linejoin="round" transform="translate(757 2025.5) rotate(-90) scale(1 0.8043478260869567)">10</text>
<line x1="842.8" y1="2000" x2="842.8" y2="2018" stroke="#000" stroke-width="7" stroke-linecap="butt"/>
<text font-size="46" text-anchor="end" fill="#000" font-weight="bold" stroke="#000" stroke-width="1.6" stroke-linejoin="round" transform="translate(855.3 2025.5) rotate(-90) scale(1 0.8043478260869567)">50</text>
<line x1="288" y1="2168" x2="863" y2="2168" stroke="#000" stroke-width="6" stroke-linecap="butt"/>
<line x1="288" y1="2155" x2="288" y2="2171" stroke="#000" stroke-width="6" stroke-linecap="butt"/>
<line x1="863" y1="2155" x2="863" y2="2171" stroke="#000" stroke-width="6" stroke-linecap="butt"/>
<text font-size="42" text-anchor="middle" fill="#000" font-weight="bold" stroke="#000" stroke-width="1.6" stroke-linejoin="round" transform="translate(580.5 2234)">brentuximab-vedotin [µg/ml]</text>
<text font-size="50" text-anchor="middle" fill="#000" font-weight="bold" stroke="#000" stroke-width="1.6" stroke-linejoin="round" transform="translate(78 1793) rotate(-90) scale(1 0.6599999999999999)"><tspan font-size="31.5" dy="-16">3</tspan><tspan dy="16">H-thymidine uptake</tspan></text>
<text font-size="50" text-anchor="middle" fill="#000" font-weight="bold" stroke="#000" stroke-width="1.6" stroke-linejoin="round" transform="translate(127 1755) rotate(-90) scale(1 0.6599999999999999)">(% of Co)</text>
<text font-size="40" text-anchor="start" fill="#000" font-weight="bold" stroke="#000" stroke-width="1.6" stroke-linejoin="round" transform="translate(275 1611)">MCPV-1.1</text>
<line x1="351.3" y1="1783.9" x2="351.3" y2="1832.3" stroke="#000" stroke-width="8.5" stroke-linecap="butt"/>
<line x1="339.8" y1="1783.9" x2="362.8" y2="1783.9" stroke="#000" stroke-width="8.5" stroke-linecap="butt"/>
<line x1="339.8" y1="1832.3" x2="362.8" y2="1832.3" stroke="#000" stroke-width="8.5" stroke-linecap="butt"/>
<line x1="449.6" y1="1785.9" x2="449.6" y2="1822.2" stroke="#000" stroke-width="8.5" stroke-linecap="butt"/>
<line x1="438.1" y1="1785.9" x2="461.1" y2="1785.9" stroke="#000" stroke-width="8.5" stroke-linecap="butt"/>
<line x1="438.1" y1="1822.2" x2="461.1" y2="1822.2" stroke="#000" stroke-width="8.5" stroke-linecap="butt"/>
<line x1="547.9" y1="1660.6" x2="547.9" y2="1850.5" stroke="#000" stroke-width="8.5" stroke-linecap="butt"/>
<line x1="536.4" y1="1660.6" x2="559.4" y2="1660.6" stroke="#000" stroke-width="8.5" stroke-linecap="butt"/>
<line x1="536.4" y1="1850.5" x2="559.4" y2="1850.5" stroke="#000" stroke-width="8.5" stroke-linecap="butt"/>
<line x1="646.2" y1="1652.6" x2="646.2" y2="1876.8" stroke="#000" stroke-width="8.5" stroke-linecap="butt"/>
<line x1="634.7" y1="1652.6" x2="657.7" y2="1652.6" stroke="#000" stroke-width="8.5" stroke-linecap="butt"/>
<line x1="634.7" y1="1876.8" x2="657.7" y2="1876.8" stroke="#000" stroke-width="8.5" stroke-linecap="butt"/>
<line x1="744.5" y1="1662.7" x2="744.5" y2="1933.3" stroke="#000" stroke-width="8.5" stroke-linecap="butt"/>
<line x1="733" y1="1662.7" x2="756" y2="1662.7" stroke="#000" stroke-width="8.5" stroke-linecap="butt"/>
<line x1="733" y1="1933.3" x2="756" y2="1933.3" stroke="#000" stroke-width="8.5" stroke-linecap="butt"/>
<line x1="842.8" y1="1864.7" x2="842.8" y2="1971.7" stroke="#000" stroke-width="8.5" stroke-linecap="butt"/>
<line x1="831.3" y1="1864.7" x2="854.3" y2="1864.7" stroke="#000" stroke-width="8.5" stroke-linecap="butt"/>
<line x1="831.3" y1="1971.7" x2="854.3" y2="1971.7" stroke="#000" stroke-width="8.5" stroke-linecap="butt"/>
<polyline points="253,1798 351.3,1808.1 449.6,1804.1 547.9,1753.6 646.2,1763.7 744.5,1791.9 842.8,1955.6" fill="none" stroke="#000" stroke-width="13.5" stroke-linejoin="round"/>
<ellipse cx="253" cy="1798" rx="14.5" ry="16.5" fill="#000"/>
<ellipse cx="351.3" cy="1808.1" rx="14.5" ry="16.5" fill="#000"/>
<ellipse cx="449.6" cy="1804.1" rx="14.5" ry="16.5" fill="#000"/>
<ellipse cx="547.9" cy="1753.6" rx="14.5" ry="16.5" fill="#000"/>
<ellipse cx="646.2" cy="1763.7" rx="14.5" ry="16.5" fill="#000"/>
<ellipse cx="744.5" cy="1791.9" rx="14.5" ry="16.5" fill="#000"/>
<ellipse cx="842.8" cy="1955.6" rx="14.5" ry="16.5" fill="#000"/>
<polygon points="842.8,1813.5 847.8,1821.1 856.6,1823.5 850.9,1830.6 851.3,1839.7 842.8,1836.5 834.3,1839.7 834.7,1830.6 829,1823.5 837.8,1821.1" fill="#000"/>
<line x1="1123" y1="1592" x2="1123" y2="2004.5" stroke="#000" stroke-width="11" stroke-linecap="butt"/>
<line x1="1117.5" y1="1999" x2="1718.8" y2="1999" stroke="#000" stroke-width="11" stroke-linecap="butt"/>
<line x1="1107" y1="1999" x2="1123" y2="1999" stroke="#000" stroke-width="7" stroke-linecap="butt"/>
<text font-size="41" text-anchor="end" fill="#000" font-weight="bold" stroke="#000" stroke-width="1.6" stroke-linejoin="round" transform="translate(1093 2015) scale(0.9 1.1)">0</text>
<line x1="1107" y1="1898" x2="1123" y2="1898" stroke="#000" stroke-width="7" stroke-linecap="butt"/>
<text font-size="41" text-anchor="end" fill="#000" font-weight="bold" stroke="#000" stroke-width="1.6" stroke-linejoin="round" transform="translate(1093 1914) scale(0.9 1.1)">50</text>
<line x1="1107" y1="1797" x2="1123" y2="1797" stroke="#000" stroke-width="7" stroke-linecap="butt"/>
<text font-size="41" text-anchor="end" fill="#000" font-weight="bold" stroke="#000" stroke-width="1.6" stroke-linejoin="round" transform="translate(1093 1813) scale(0.9 1.1)">100</text>
<line x1="1107" y1="1696" x2="1123" y2="1696" stroke="#000" stroke-width="7" stroke-linecap="butt"/>
<text font-size="41" text-anchor="end" fill="#000" font-weight="bold" stroke="#000" stroke-width="1.6" stroke-linejoin="round" transform="translate(1093 1712) scale(0.9 1.1)">150</text>
<line x1="1107" y1="1595" x2="1123" y2="1595" stroke="#000" stroke-width="7" stroke-linecap="butt"/>
<text font-size="41" text-anchor="end" fill="#000" font-weight="bold" stroke="#000" stroke-width="1.6" stroke-linejoin="round" transform="translate(1093 1611) scale(0.9 1.1)">200</text>
<line x1="1123" y1="1999" x2="1123" y2="2017" stroke="#000" stroke-width="7" stroke-linecap="butt"/>
<text font-size="46" text-anchor="end" fill="#000" font-weight="bold" stroke="#000" stroke-width="1.6" stroke-linejoin="round" transform="translate(1135.5 2024.5) rotate(-90) scale(1 0.8043478260869567)">Co</text>
<line x1="1221.3" y1="1999" x2="1221.3" y2="2017" stroke="#000" stroke-width="7" stroke-linecap="butt"/>
<text font-size="46" text-anchor="end" fill="#000" font-weight="bold" stroke="#000" stroke-width="1.6" stroke-linejoin="round" transform="translate(1233.8 2024.5) rotate(-90) scale(1 0.8043478260869567)">0.1</text>
<line x1="1319.6" y1="1999" x2="1319.6" y2="2017" stroke="#000" stroke-width="7" stroke-linecap="butt"/>
<text font-size="46" text-anchor="end" fill="#000" font-weight="bold" stroke="#000" stroke-width="1.6" stroke-linejoin="round" transform="translate(1332.1 2024.5) rotate(-90) scale(1 0.8043478260869567)">0.5</text>
<line x1="1417.9" y1="1999" x2="1417.9" y2="2017" stroke="#000" stroke-width="7" stroke-linecap="butt"/>
<text font-size="46" text-anchor="end" fill="#000" font-weight="bold" stroke="#000" stroke-width="1.6" stroke-linejoin="round" transform="translate(1430.4 2024.5) rotate(-90) scale(1 0.8043478260869567)">1</text>
<line x1="1516.2" y1="1999" x2="1516.2" y2="2017" stroke="#000" stroke-width="7" stroke-linecap="butt"/>
<text font-size="46" text-anchor="end" fill="#000" font-weight="bold" stroke="#000" stroke-width="1.6" stroke-linejoin="round" transform="translate(1528.7 2024.5) rotate(-90) scale(1 0.8043478260869567)">5</text>
<line x1="1614.5" y1="1999" x2="1614.5" y2="2017" stroke="#000" stroke-width="7" stroke-linecap="butt"/>
<text font-size="46" text-anchor="end" fill="#000" font-weight="bold" stroke="#000" stroke-width="1.6" stroke-linejoin="round" transform="translate(1627 2024.5) rotate(-90) scale(1 0.8043478260869567)">10</text>
<line x1="1712.8" y1="1999" x2="1712.8" y2="2017" stroke="#000" stroke-width="7" stroke-linecap="butt"/>
<text font-size="46" text-anchor="end" fill="#000" font-weight="bold" stroke="#000" stroke-width="1.6" stroke-linejoin="round" transform="translate(1725.3 2024.5) rotate(-90) scale(1 0.8043478260869567)">50</text>
<line x1="1156" y1="2171" x2="1738" y2="2171" stroke="#000" stroke-width="6" stroke-linecap="butt"/>
<line x1="1156" y1="2158" x2="1156" y2="2174" stroke="#000" stroke-width="6" stroke-linecap="butt"/>
<line x1="1738" y1="2158" x2="1738" y2="2174" stroke="#000" stroke-width="6" stroke-linecap="butt"/>
<text font-size="42" text-anchor="middle" fill="#000" font-weight="bold" stroke="#000" stroke-width="1.6" stroke-linejoin="round" transform="translate(1452 2234)">brentuximab-vedotin [µg/ml]</text>
<text font-size="50" text-anchor="middle" fill="#000" font-weight="bold" stroke="#000" stroke-width="1.6" stroke-linejoin="round" transform="translate(954 1792) rotate(-90) scale(1 0.6599999999999999)"><tspan font-size="31.5" dy="-16">3</tspan><tspan dy="16">H-thymidine uptake</tspan></text>
<text font-size="50" text-anchor="middle" fill="#000" font-weight="bold" stroke="#000" stroke-width="1.6" stroke-linejoin="round" transform="translate(1001 1754) rotate(-90) scale(1 0.6599999999999999)">(% of Co)</text>
<text font-size="40" text-anchor="start" fill="#000" font-weight="bold" stroke="#000" stroke-width="1.6" stroke-linejoin="round" transform="translate(1145 1610)">MCPV-1.4</text>
<line x1="1221.3" y1="1774.8" x2="1221.3" y2="1815.2" stroke="#000" stroke-width="8.5" stroke-linecap="butt"/>
<line x1="1209.8" y1="1774.8" x2="1232.8" y2="1774.8" stroke="#000" stroke-width="8.5" stroke-linecap="butt"/>
<line x1="1209.8" y1="1815.2" x2="1232.8" y2="1815.2" stroke="#000" stroke-width="8.5" stroke-linecap="butt"/>
<line x1="1319.6" y1="1782.9" x2="1319.6" y2="1811.1" stroke="#000" stroke-width="8.5" stroke-linecap="butt"/>
<line x1="1308.1" y1="1782.9" x2="1331.1" y2="1782.9" stroke="#000" stroke-width="8.5" stroke-linecap="butt"/>
<line x1="1308.1" y1="1811.1" x2="1331.1" y2="1811.1" stroke="#000" stroke-width="8.5" stroke-linecap="butt"/>
<line x1="1417.9" y1="1780.8" x2="1417.9" y2="1809.1" stroke="#000" stroke-width="8.5" stroke-linecap="butt"/>
<line x1="1406.4" y1="1780.8" x2="1429.4" y2="1780.8" stroke="#000" stroke-width="8.5" stroke-linecap="butt"/>
<line x1="1406.4" y1="1809.1" x2="1429.4" y2="1809.1" stroke="#000" stroke-width="8.5" stroke-linecap="butt"/>
<line x1="1516.2" y1="1793" x2="1516.2" y2="1813.2" stroke="#000" stroke-width="8.5" stroke-linecap="butt"/>
<line x1="1504.7" y1="1793" x2="1527.7" y2="1793" stroke="#000" stroke-width="8.5" stroke-linecap="butt"/>
<line x1="1504.7" y1="1813.2" x2="1527.7" y2="1813.2" stroke="#000" stroke-width="8.5" stroke-linecap="butt"/>
<line x1="1614.5" y1="1793" x2="1614.5" y2="1809.1" stroke="#000" stroke-width="8.5" stroke-linecap="butt"/>
<line x1="1603" y1="1793" x2="1626" y2="1793" stroke="#000" stroke-width="8.5" stroke-linecap="butt"/>
<line x1="1603" y1="1809.1" x2="1626" y2="1809.1" stroke="#000" stroke-width="8.5" stroke-linecap="butt"/>
<line x1="1712.8" y1="1889.9" x2="1712.8" y2="1938.4" stroke="#000" stroke-width="8.5" stroke-linecap="butt"/>
<line x1="1701.3" y1="1889.9" x2="1724.3" y2="1889.9" stroke="#000" stroke-width="8.5" stroke-linecap="butt"/>
<line x1="1701.3" y1="1938.4" x2="1724.3" y2="1938.4" stroke="#000" stroke-width="8.5" stroke-linecap="butt"/>
<polyline points="1123,1797 1221.3,1795 1319.6,1797 1417.9,1795 1516.2,1803.1 1614.5,1801 1712.8,1914.2" fill="none" stroke="#000" stroke-width="13.5" stroke-linejoin="round"/>
<ellipse cx="1123" cy="1797" rx="14.5" ry="16.5" fill="#000"/>
<ellipse cx="1221.3" cy="1795" rx="14.5" ry="16.5" fill="#000"/>
<ellipse cx="1319.6" cy="1797" rx="14.5" ry="16.5" fill="#000"/>
<ellipse cx="1417.9" cy="1795" rx="14.5" ry="16.5" fill="#000"/>
<ellipse cx="1516.2" cy="1803.1" rx="14.5" ry="16.5" fill="#000"/>
<ellipse cx="1614.5" cy="1801" rx="14.5" ry="16.5" fill="#000"/>
<ellipse cx="1712.8" cy="1914.2" rx="14.5" ry="16.5" fill="#000"/>
<polygon points="1712.8,1817.5 1717.8,1825.1 1726.6,1827.5 1720.9,1834.6 1721.3,1843.7 1712.8,1840.5 1704.3,1843.7 1704.7,1834.6 1699,1827.5 1707.8,1825.1" fill="#000"/>
<line x1="253" y1="2335" x2="253" y2="2748.5" stroke="#000" stroke-width="11" stroke-linecap="butt"/>
<line x1="247.5" y1="2743" x2="848.8" y2="2743" stroke="#000" stroke-width="11" stroke-linecap="butt"/>
<line x1="237" y1="2743" x2="253" y2="2743" stroke="#000" stroke-width="7" stroke-linecap="butt"/>
<text font-size="41" text-anchor="end" fill="#000" font-weight="bold" stroke="#000" stroke-width="1.6" stroke-linejoin="round" transform="translate(223 2759) scale(0.9 1.1)">0</text>
<line x1="237" y1="2641.8" x2="253" y2="2641.8" stroke="#000" stroke-width="7" stroke-linecap="butt"/>
<text font-size="41" text-anchor="end" fill="#000" font-weight="bold" stroke="#000" stroke-width="1.6" stroke-linejoin="round" transform="translate(223 2657.7) scale(0.9 1.1)">50</text>
<line x1="237" y1="2540.5" x2="253" y2="2540.5" stroke="#000" stroke-width="7" stroke-linecap="butt"/>
<text font-size="41" text-anchor="end" fill="#000" font-weight="bold" stroke="#000" stroke-width="1.6" stroke-linejoin="round" transform="translate(223 2556.5) scale(0.9 1.1)">100</text>
<line x1="237" y1="2439.2" x2="253" y2="2439.2" stroke="#000" stroke-width="7" stroke-linecap="butt"/>
<text font-size="41" text-anchor="end" fill="#000" font-weight="bold" stroke="#000" stroke-width="1.6" stroke-linejoin="round" transform="translate(223 2455.2) scale(0.9 1.1)">150</text>
<line x1="237" y1="2338" x2="253" y2="2338" stroke="#000" stroke-width="7" stroke-linecap="butt"/>
<text font-size="41" text-anchor="end" fill="#000" font-weight="bold" stroke="#000" stroke-width="1.6" stroke-linejoin="round" transform="translate(223 2354) scale(0.9 1.1)">200</text>
<line x1="253" y1="2743" x2="253" y2="2761" stroke="#000" stroke-width="7" stroke-linecap="butt"/>
<text font-size="46" text-anchor="end" fill="#000" font-weight="bold" stroke="#000" stroke-width="1.6" stroke-linejoin="round" transform="translate(265.5 2768.5) rotate(-90) scale(1 0.8043478260869567)">Co</text>
<line x1="351.3" y1="2743" x2="351.3" y2="2761" stroke="#000" stroke-width="7" stroke-linecap="butt"/>
<text font-size="46" text-anchor="end" fill="#000" font-weight="bold" stroke="#000" stroke-width="1.6" stroke-linejoin="round" transform="translate(363.8 2768.5) rotate(-90) scale(1 0.8043478260869567)">0.1</text>
<line x1="449.6" y1="2743" x2="449.6" y2="2761" stroke="#000" stroke-width="7" stroke-linecap="butt"/>
<text font-size="46" text-anchor="end" fill="#000" font-weight="bold" stroke="#000" stroke-width="1.6" stroke-linejoin="round" transform="translate(462.1 2768.5) rotate(-90) scale(1 0.8043478260869567)">0.5</text>
<line x1="547.9" y1="2743" x2="547.9" y2="2761" stroke="#000" stroke-width="7" stroke-linecap="butt"/>
<text font-size="46" text-anchor="end" fill="#000" font-weight="bold" stroke="#000" stroke-width="1.6" stroke-linejoin="round" transform="translate(560.4 2768.5) rotate(-90) scale(1 0.8043478260869567)">1</text>
<line x1="646.2" y1="2743" x2="646.2" y2="2761" stroke="#000" stroke-width="7" stroke-linecap="butt"/>
<text font-size="46" text-anchor="end" fill="#000" font-weight="bold" stroke="#000" stroke-width="1.6" stroke-linejoin="round" transform="translate(658.7 2768.5) rotate(-90) scale(1 0.8043478260869567)">5</text>
<line x1="744.5" y1="2743" x2="744.5" y2="2761" stroke="#000" stroke-width="7" stroke-linecap="butt"/>
<text font-size="46" text-anchor="end" fill="#000" font-weight="bold" stroke="#000" stroke-width="1.6" stroke-linejoin="round" transform="translate(757 2768.5) rotate(-90) scale(1 0.8043478260869567)">10</text>
<line x1="842.8" y1="2743" x2="842.8" y2="2761" stroke="#000" stroke-width="7" stroke-linecap="butt"/>
<text font-size="46" text-anchor="end" fill="#000" font-weight="bold" stroke="#000" stroke-width="1.6" stroke-linejoin="round" transform="translate(855.3 2768.5) rotate(-90) scale(1 0.8043478260869567)">50</text>
<line x1="286" y1="2910" x2="863" y2="2910" stroke="#000" stroke-width="6" stroke-linecap="butt"/>
<line x1="286" y1="2897" x2="286" y2="2913" stroke="#000" stroke-width="6" stroke-linecap="butt"/>
<line x1="863" y1="2897" x2="863" y2="2913" stroke="#000" stroke-width="6" stroke-linecap="butt"/>
<text font-size="42" text-anchor="middle" fill="#000" font-weight="bold" stroke="#000" stroke-width="1.6" stroke-linejoin="round" transform="translate(579.5 2983)">brentuximab-vedotin [µg/ml]</text>
<text font-size="50" text-anchor="middle" fill="#000" font-weight="bold" stroke="#000" stroke-width="1.6" stroke-linejoin="round" transform="translate(86 2535.5) rotate(-90) scale(1 0.6599999999999999)"><tspan font-size="31.5" dy="-16">3</tspan><tspan dy="16">H-thymidine uptake</tspan></text>
<text font-size="50" text-anchor="middle" fill="#000" font-weight="bold" stroke="#000" stroke-width="1.6" stroke-linejoin="round" transform="translate(150 2497.5) rotate(-90) scale(1 0.6599999999999999)">(% of Co)</text>
<text font-size="40" text-anchor="start" fill="#000" font-weight="bold" stroke="#000" stroke-width="1.6" stroke-linejoin="round" transform="translate(275 2353)">C2</text>
<line x1="351.3" y1="2481.8" x2="351.3" y2="2522.3" stroke="#000" stroke-width="8.5" stroke-linecap="butt"/>
<line x1="339.8" y1="2481.8" x2="362.8" y2="2481.8" stroke="#000" stroke-width="8.5" stroke-linecap="butt"/>
<line x1="339.8" y1="2522.3" x2="362.8" y2="2522.3" stroke="#000" stroke-width="8.5" stroke-linecap="butt"/>
<line x1="449.6" y1="2485.8" x2="449.6" y2="2538.5" stroke="#000" stroke-width="8.5" stroke-linecap="butt"/>
<line x1="438.1" y1="2485.8" x2="461.1" y2="2485.8" stroke="#000" stroke-width="8.5" stroke-linecap="butt"/>
<line x1="438.1" y1="2538.5" x2="461.1" y2="2538.5" stroke="#000" stroke-width="8.5" stroke-linecap="butt"/>
<line x1="547.9" y1="2495.9" x2="547.9" y2="2544.6" stroke="#000" stroke-width="8.5" stroke-linecap="butt"/>
<line x1="536.4" y1="2495.9" x2="559.4" y2="2495.9" stroke="#000" stroke-width="8.5" stroke-linecap="butt"/>
<line x1="536.4" y1="2544.6" x2="559.4" y2="2544.6" stroke="#000" stroke-width="8.5" stroke-linecap="butt"/>
<line x1="646.2" y1="2593.2" x2="646.2" y2="2633.7" stroke="#000" stroke-width="8.5" stroke-linecap="butt"/>
<line x1="634.7" y1="2593.2" x2="657.7" y2="2593.2" stroke="#000" stroke-width="8.5" stroke-linecap="butt"/>
<line x1="634.7" y1="2633.7" x2="657.7" y2="2633.7" stroke="#000" stroke-width="8.5" stroke-linecap="butt"/>
<line x1="744.5" y1="2615.4" x2="744.5" y2="2704.5" stroke="#000" stroke-width="8.5" stroke-linecap="butt"/>
<line x1="733" y1="2615.4" x2="756" y2="2615.4" stroke="#000" stroke-width="8.5" stroke-linecap="butt"/>
<line x1="733" y1="2704.5" x2="756" y2="2704.5" stroke="#000" stroke-width="8.5" stroke-linecap="butt"/>
<line x1="842.8" y1="2698.5" x2="842.8" y2="2730.9" stroke="#000" stroke-width="8.5" stroke-linecap="butt"/>
<line x1="831.3" y1="2698.5" x2="854.3" y2="2698.5" stroke="#000" stroke-width="8.5" stroke-linecap="butt"/>
<line x1="831.3" y1="2730.9" x2="854.3" y2="2730.9" stroke="#000" stroke-width="8.5" stroke-linecap="butt"/>
<polyline points="253,2540.5 351.3,2502 449.6,2512.2 547.9,2520.2 646.2,2613.4 744.5,2660 842.8,2714.7" fill="none" stroke="#000" stroke-width="13.5" stroke-linejoin="round"/>
<ellipse cx="253" cy="2540.5" rx="14.5" ry="16.5" fill="#000"/>
<ellipse cx="351.3" cy="2502" rx="14.5" ry="16.5" fill="#000"/>
<ellipse cx="449.6" cy="2512.2" rx="14.5" ry="16.5" fill="#000"/>
<ellipse cx="547.9" cy="2520.2" rx="14.5" ry="16.5" fill="#000"/>
<ellipse cx="646.2" cy="2613.4" rx="14.5" ry="16.5" fill="#000"/>
<ellipse cx="744.5" cy="2660" rx="14.5" ry="16.5" fill="#000"/>
<ellipse cx="842.8" cy="2714.7" rx="14.5" ry="16.5" fill="#000"/>
<polygon points="646.2,2530.5 651.2,2538.1 660,2540.5 654.3,2547.6 654.7,2556.7 646.2,2553.5 637.7,2556.7 638.1,2547.6 632.4,2540.5 641.2,2538.1" fill="#000"/>
<polygon points="744.5,2544.5 749.5,2552.1 758.3,2554.5 752.6,2561.6 753,2570.7 744.5,2567.5 736,2570.7 736.4,2561.6 730.7,2554.5 739.5,2552.1" fill="#000"/>
<polygon points="842.8,2621.5 847.8,2629.1 856.6,2631.5 850.9,2638.6 851.3,2647.7 842.8,2644.5 834.3,2647.7 834.7,2638.6 829,2631.5 837.8,2629.1" fill="#000"/>
<line x1="1244" y1="2361" x2="1244" y2="2873.5" stroke="#000" stroke-width="11" stroke-linecap="butt"/>
<line x1="1240.5" y1="2870" x2="1745" y2="2870" stroke="#000" stroke-width="11" stroke-linecap="butt"/>
<line x1="1228" y1="2870" x2="1244" y2="2870" stroke="#000" stroke-width="6" stroke-linecap="butt"/>
<text font-size="39" text-anchor="end" fill="#000" font-weight="bold" stroke="#000" stroke-width="1.6" stroke-linejoin="round" transform="translate(1217 2885.5) scale(0.9 1.1)">0</text>
<line x1="1228" y1="2768.8" x2="1244" y2="2768.8" stroke="#000" stroke-width="6" stroke-linecap="butt"/>
<text font-size="39" text-anchor="end" fill="#000" font-weight="bold" stroke="#000" stroke-width="1.6" stroke-linejoin="round" transform="translate(1217 2784.3) scale(0.9 1.1)">20</text>
<line x1="1228" y1="2667.6" x2="1244" y2="2667.6" stroke="#000" stroke-width="6" stroke-linecap="butt"/>
<text font-size="39" text-anchor="end" fill="#000" font-weight="bold" stroke="#000" stroke-width="1.6" stroke-linejoin="round" transform="translate(1217 2683.1) scale(0.9 1.1)">40</text>
<line x1="1228" y1="2566.4" x2="1244" y2="2566.4" stroke="#000" stroke-width="6" stroke-linecap="butt"/>
<text font-size="39" text-anchor="end" fill="#000" font-weight="bold" stroke="#000" stroke-width="1.6" stroke-linejoin="round" transform="translate(1217 2581.9) scale(0.9 1.1)">60</text>
<line x1="1228" y1="2465.2" x2="1244" y2="2465.2" stroke="#000" stroke-width="6" stroke-linecap="butt"/>
<text font-size="39" text-anchor="end" fill="#000" font-weight="bold" stroke="#000" stroke-width="1.6" stroke-linejoin="round" transform="translate(1217 2480.7) scale(0.9 1.1)">80</text>
<line x1="1228" y1="2364" x2="1244" y2="2364" stroke="#000" stroke-width="6" stroke-linecap="butt"/>
<text font-size="39" text-anchor="end" fill="#000" font-weight="bold" stroke="#000" stroke-width="1.6" stroke-linejoin="round" transform="translate(1217 2379.5) scale(0.9 1.1)">100</text>
<rect x="1312.5" y="2561.3" width="112.5" height="308.7" fill="#000"/>
<line x1="1368.8" y1="2439.9" x2="1368.8" y2="2561.3" stroke="#333" stroke-width="4" stroke-linecap="butt"/>
<line x1="1357.8" y1="2439.9" x2="1379.8" y2="2439.9" stroke="#333" stroke-width="4" stroke-linecap="butt"/>
<rect x="1542.5" y="2642.3" width="112.5" height="227.7" fill="#000"/>
<line x1="1598.8" y1="2495.6" x2="1598.8" y2="2642.3" stroke="#333" stroke-width="4" stroke-linecap="butt"/>
<line x1="1587.8" y1="2495.6" x2="1609.8" y2="2495.6" stroke="#333" stroke-width="4" stroke-linecap="butt"/>
<polygon points="1598.8,2451.1 1603.7,2458.7 1612.5,2461.1 1606.8,2468.2 1607.3,2477.3 1598.8,2474.1 1590.2,2477.3 1590.7,2468.2 1585,2461.1 1593.8,2458.7" fill="#000"/>
<text font-size="39" text-anchor="middle" fill="#000" font-weight="bold" stroke="#000" stroke-width="1.6" stroke-linejoin="round" transform="translate(1353 2942)">Co</text>
<text font-size="40" text-anchor="middle" fill="#000" font-weight="bold" stroke="#000" stroke-width="1.6" stroke-linejoin="round" transform="translate(1600 2942)">brentuximab-</text>
<text font-size="40" text-anchor="middle" fill="#000" font-weight="bold" stroke="#000" stroke-width="1.6" stroke-linejoin="round" transform="translate(1600 2983)">vedotin</text>
<text font-size="44" text-anchor="middle" fill="#000" font-weight="bold" stroke="#000" stroke-width="1.6" stroke-linejoin="round" transform="translate(1145 2610) rotate(-90)">Engraftment [%]</text>
<rect x="2657" y="80.5" width="482" height="35" fill="#fff" stroke="#000" stroke-width="6.5"/>
<line x1="3141" y1="98" x2="3267" y2="98" stroke="#444" stroke-width="3.5" stroke-linecap="butt"/>
<line x1="3267" y1="90" x2="3267" y2="106" stroke="#444" stroke-width="3.5" stroke-linecap="butt"/>
<text font-size="40.8" text-anchor="end" fill="#000" font-weight="bold" stroke="#000" stroke-width="1.6" stroke-linejoin="round" transform="translate(2632 113)">Co</text>
<rect x="2657" y="134.3" width="371" height="35" fill="#000" stroke="#000" stroke-width="4"/>
<line x1="3028" y1="151.8" x2="3127" y2="151.8" stroke="#444" stroke-width="3.5" stroke-linecap="butt"/>
<line x1="3127" y1="143.8" x2="3127" y2="159.8" stroke="#444" stroke-width="3.5" stroke-linecap="butt"/>
<text font-size="40.8" text-anchor="end" fill="#000" font-weight="bold" stroke="#000" stroke-width="1.6" stroke-linejoin="round" transform="translate(2632 166.8)">brentuximab-vedotin; 2.5 µg/ml</text>
<rect x="2657" y="188.1" width="348" height="35" fill="#000" stroke="#000" stroke-width="4"/>
<line x1="3005" y1="205.6" x2="3034" y2="205.6" stroke="#444" stroke-width="3.5" stroke-linecap="butt"/>
<line x1="3034" y1="197.6" x2="3034" y2="213.6" stroke="#444" stroke-width="3.5" stroke-linecap="butt"/>
<text font-size="40.8" text-anchor="end" fill="#000" font-weight="bold" stroke="#000" stroke-width="1.6" stroke-linejoin="round" transform="translate(2632 220.6)">brentuximab-vedotin; 5 µg/ml</text>
<rect x="2657" y="241.9" width="368" height="35" fill="#000" stroke="#000" stroke-width="4"/>
<line x1="3025" y1="259.4" x2="3141" y2="259.4" stroke="#444" stroke-width="3.5" stroke-linecap="butt"/>
<line x1="3141" y1="251.4" x2="3141" y2="267.4" stroke="#444" stroke-width="3.5" stroke-linecap="butt"/>
<text font-size="40.8" text-anchor="end" fill="#000" font-weight="bold" stroke="#000" stroke-width="1.6" stroke-linejoin="round" transform="translate(2632 274.4)">brentuximab-vedotin; 7.5 µg/ml</text>
<rect x="2657" y="295.7" width="116" height="35" fill="#000" stroke="#000" stroke-width="4"/>
<line x1="2773" y1="313.2" x2="2781" y2="313.2" stroke="#444" stroke-width="3.5" stroke-linecap="butt"/>
<line x1="2781" y1="305.2" x2="2781" y2="321.2" stroke="#444" stroke-width="3.5" stroke-linecap="butt"/>
<polygon points="2821,300.2 2825.4,307.1 2833.4,309.2 2828.1,315.5 2828.6,323.7 2821,320.7 2813.4,323.7 2813.9,315.5 2808.6,309.2 2816.6,307.1" fill="#000"/>
<text font-size="40.8" text-anchor="end" fill="#000" font-weight="bold" stroke="#000" stroke-width="1.6" stroke-linejoin="round" transform="translate(2632 328.2)">brentuximab-vedotin; 10 µg/ml</text>
<rect x="2657" y="349.5" width="236" height="35" fill="#fff" stroke="#000" stroke-width="6.5"/>
<line x1="2895" y1="367" x2="2932" y2="367" stroke="#444" stroke-width="3.5" stroke-linecap="butt"/>
<line x1="2932" y1="359" x2="2932" y2="375" stroke="#444" stroke-width="3.5" stroke-linecap="butt"/>
<text font-size="40.8" text-anchor="end" fill="#000" font-weight="bold" stroke="#000" stroke-width="1.6" stroke-linejoin="round" transform="translate(2632 382)">Co</text>
<rect x="2657" y="404.3" width="309" height="33" fill="#6b6b6b" stroke="#444" stroke-width="4"/>
<line x1="2966" y1="420.8" x2="3034" y2="420.8" stroke="#444" stroke-width="3.5" stroke-linecap="butt"/>
<line x1="3034" y1="412.8" x2="3034" y2="428.8" stroke="#444" stroke-width="3.5" stroke-linecap="butt"/>
<text font-size="40.8" text-anchor="end" fill="#000" font-weight="bold" stroke="#000" stroke-width="1.6" stroke-linejoin="round" transform="translate(2632 435.8)">brentuximab-vedotin; 2.5 µg/ml</text>
<rect x="2657" y="458.1" width="329" height="33" fill="#6b6b6b" stroke="#444" stroke-width="4"/>
<line x1="2986" y1="474.6" x2="3015" y2="474.6" stroke="#444" stroke-width="3.5" stroke-linecap="butt"/>
<line x1="3015" y1="466.6" x2="3015" y2="482.6" stroke="#444" stroke-width="3.5" stroke-linecap="butt"/>
<text font-size="40.8" text-anchor="end" fill="#000" font-weight="bold" stroke="#000" stroke-width="1.6" stroke-linejoin="round" transform="translate(2632 489.6)">brentuximab-vedotin; 5 µg/ml</text>
<rect x="2657" y="511.9" width="352" height="33" fill="#6b6b6b" stroke="#444" stroke-width="4"/>
<line x1="3009" y1="528.4" x2="3106" y2="528.4" stroke="#444" stroke-width="3.5" stroke-linecap="butt"/>
<line x1="3106" y1="520.4" x2="3106" y2="536.4" stroke="#444" stroke-width="3.5" stroke-linecap="butt"/>
<text font-size="40.8" text-anchor="end" fill="#000" font-weight="bold" stroke="#000" stroke-width="1.6" stroke-linejoin="round" transform="translate(2632 543.4)">brentuximab-vedotin; 7.5 µg/ml</text>
<rect x="2657" y="565.7" width="383" height="33" fill="#6b6b6b" stroke="#444" stroke-width="4"/>
<line x1="3040" y1="582.2" x2="3049" y2="582.2" stroke="#444" stroke-width="3.5" stroke-linecap="butt"/>
<line x1="3049" y1="574.2" x2="3049" y2="590.2" stroke="#444" stroke-width="3.5" stroke-linecap="butt"/>
<text font-size="40.8" text-anchor="end" fill="#000" font-weight="bold" stroke="#000" stroke-width="1.6" stroke-linejoin="round" transform="translate(2632 597.2)">brentuximab-vedotin; 10 µg/ml</text>
<rect x="2657" y="618.5" width="95" height="35" fill="#fff" stroke="#000" stroke-width="6.5"/>
<line x1="2754" y1="636" x2="2817" y2="636" stroke="#444" stroke-width="3.5" stroke-linecap="butt"/>
<line x1="2817" y1="628" x2="2817" y2="644" stroke="#444" stroke-width="3.5" stroke-linecap="butt"/>
<text font-size="40.8" text-anchor="end" fill="#000" font-weight="bold" stroke="#000" stroke-width="1.6" stroke-linejoin="round" transform="translate(2632 651)">Co</text>
<rect x="2657" y="674.3" width="160" height="31" fill="#bebebe" stroke="#8a8a8a" stroke-width="4"/>
<line x1="2817" y1="689.8" x2="2860" y2="689.8" stroke="#444" stroke-width="3.5" stroke-linecap="butt"/>
<line x1="2860" y1="681.8" x2="2860" y2="697.8" stroke="#444" stroke-width="3.5" stroke-linecap="butt"/>
<text font-size="40.8" text-anchor="end" fill="#000" font-weight="bold" stroke="#000" stroke-width="1.6" stroke-linejoin="round" transform="translate(2632 704.8)">brentuximab-vedotin; 2.5 µg/ml</text>
<rect x="2657" y="728.1" width="193" height="31" fill="#bebebe" stroke="#8a8a8a" stroke-width="4"/>
<line x1="2850" y1="743.6" x2="2889" y2="743.6" stroke="#444" stroke-width="3.5" stroke-linecap="butt"/>
<line x1="2889" y1="735.6" x2="2889" y2="751.6" stroke="#444" stroke-width="3.5" stroke-linecap="butt"/>
<text font-size="40.8" text-anchor="end" fill="#000" font-weight="bold" stroke="#000" stroke-width="1.6" stroke-linejoin="round" transform="translate(2632 758.6)">brentuximab-vedotin; 5 µg/ml</text>
<rect x="2657" y="781.9" width="207" height="31" fill="#bebebe" stroke="#8a8a8a" stroke-width="4"/>
<line x1="2864" y1="797.4" x2="2927" y2="797.4" stroke="#444" stroke-width="3.5" stroke-linecap="butt"/>
<line x1="2927" y1="789.4" x2="2927" y2="805.4" stroke="#444" stroke-width="3.5" stroke-linecap="butt"/>
<polygon points="2961,784.4 2965.4,791.3 2973.4,793.4 2968.1,799.7 2968.6,807.9 2961,804.9 2953.4,807.9 2953.9,799.7 2948.6,793.4 2956.6,791.3" fill="#000"/>
<text font-size="40.8" text-anchor="end" fill="#000" font-weight="bold" stroke="#000" stroke-width="1.6" stroke-linejoin="round" transform="translate(2632 812.4)">brentuximab-vedotin; 7.5 µg/ml</text>
<rect x="2657" y="835.7" width="223" height="31" fill="#bebebe" stroke="#8a8a8a" stroke-width="4"/>
<line x1="2880" y1="851.2" x2="2937" y2="851.2" stroke="#444" stroke-width="3.5" stroke-linecap="butt"/>
<line x1="2937" y1="843.2" x2="2937" y2="859.2" stroke="#444" stroke-width="3.5" stroke-linecap="butt"/>
<polygon points="2969,838.2 2973.4,845.1 2981.4,847.2 2976.1,853.5 2976.6,861.7 2969,858.7 2961.4,861.7 2961.9,853.5 2956.6,847.2 2964.6,845.1" fill="#000"/>
<text font-size="40.8" text-anchor="end" fill="#000" font-weight="bold" stroke="#000" stroke-width="1.6" stroke-linejoin="round" transform="translate(2632 866.2)">brentuximab-vedotin; 10 µg/ml</text>
<line x1="2657" y1="74" x2="2657" y2="883" stroke="#000" stroke-width="6" stroke-linecap="butt"/>
<line x1="2654" y1="880" x2="3503" y2="880" stroke="#000" stroke-width="6" stroke-linecap="butt"/>
<line x1="2657" y1="880" x2="2657" y2="894" stroke="#000" stroke-width="5" stroke-linecap="butt"/>
<text font-size="37" text-anchor="middle" fill="#000" font-weight="bold" stroke="#000" stroke-width="1.6" stroke-linejoin="round" transform="translate(2657 938)">0</text>
<line x1="2867.8" y1="880" x2="2867.8" y2="894" stroke="#000" stroke-width="5" stroke-linecap="butt"/>
<text font-size="37" text-anchor="middle" fill="#000" font-weight="bold" stroke="#000" stroke-width="1.6" stroke-linejoin="round" transform="translate(2867.8 938)">25</text>
<line x1="3078.5" y1="880" x2="3078.5" y2="894" stroke="#000" stroke-width="5" stroke-linecap="butt"/>
<text font-size="37" text-anchor="middle" fill="#000" font-weight="bold" stroke="#000" stroke-width="1.6" stroke-linejoin="round" transform="translate(3078.5 938)">50</text>
<line x1="3289.2" y1="880" x2="3289.2" y2="894" stroke="#000" stroke-width="5" stroke-linecap="butt"/>
<text font-size="37" text-anchor="middle" fill="#000" font-weight="bold" stroke="#000" stroke-width="1.6" stroke-linejoin="round" transform="translate(3289.2 938)">75</text>
<line x1="3500" y1="880" x2="3500" y2="894" stroke="#000" stroke-width="5" stroke-linecap="butt"/>
<text font-size="37" text-anchor="middle" fill="#000" font-weight="bold" stroke="#000" stroke-width="1.6" stroke-linejoin="round" transform="translate(3500 938)">100</text>
<text font-size="38.5" text-anchor="middle" fill="#000" font-weight="bold" stroke="#000" stroke-width="1.6" stroke-linejoin="round" transform="translate(3077 991)">Relative cell number (%)</text>
<text font-size="57" text-anchor="end" fill="#000" font-weight="bold" stroke="#000" stroke-width="1.6" stroke-linejoin="round" transform="translate(3480 855)">HMC-1.1</text>
<path d="M2008 83 Q1997 83 1997 91 L1997 208 L1993.5 214 L1997 220 L1997 337 Q1997 345 2006 345" fill="none" stroke="#111" stroke-width="6"/>
<text font-size="36" text-anchor="middle" fill="#000" font-weight="bold" stroke="#000" stroke-width="1.6" stroke-linejoin="round" transform="translate(1929 218.6)">G1</text>
<path d="M2008 352 Q1997 352 1997 360 L1997 477 L1993.5 483 L1997 489 L1997 606 Q1997 614 2006 614" fill="none" stroke="#111" stroke-width="6"/>
<text font-size="36" text-anchor="middle" fill="#000" font-weight="bold" stroke="#000" stroke-width="1.6" stroke-linejoin="round" transform="translate(1929 487.6)">S</text>
<path d="M2008 621 Q1997 621 1997 629 L1997 746 L1993.5 752 L1997 758 L1997 875 Q1997 883 2006 883" fill="none" stroke="#111" stroke-width="6"/>
<text font-size="36" text-anchor="middle" fill="#000" font-weight="bold" stroke="#000" stroke-width="1.6" stroke-linejoin="round" transform="translate(1929 756.6)">G2</text>
<rect x="4313" y="80.5" width="648" height="35" fill="#fff" stroke="#000" stroke-width="6.5"/>
<line x1="4963" y1="98" x2="5000" y2="98" stroke="#444" stroke-width="3.5" stroke-linecap="butt"/>
<line x1="5000" y1="90" x2="5000" y2="106" stroke="#444" stroke-width="3.5" stroke-linecap="butt"/>
<text font-size="40.8" text-anchor="end" fill="#000" font-weight="bold" stroke="#000" stroke-width="1.6" stroke-linejoin="round" transform="translate(4288 113)">Co</text>
<rect x="4313" y="134.3" width="698" height="35" fill="#000" stroke="#000" stroke-width="4"/>
<line x1="5011" y1="151.8" x2="5083" y2="151.8" stroke="#444" stroke-width="3.5" stroke-linecap="butt"/>
<line x1="5083" y1="143.8" x2="5083" y2="159.8" stroke="#444" stroke-width="3.5" stroke-linecap="butt"/>
<text font-size="40.8" text-anchor="end" fill="#000" font-weight="bold" stroke="#000" stroke-width="1.6" stroke-linejoin="round" transform="translate(4288 166.8)">brentuximab-vedotin; 2.5 µg/ml</text>
<rect x="4313" y="188.1" width="735" height="35" fill="#000" stroke="#000" stroke-width="4"/>
<line x1="5048" y1="205.6" x2="5063" y2="205.6" stroke="#444" stroke-width="3.5" stroke-linecap="butt"/>
<line x1="5063" y1="197.6" x2="5063" y2="213.6" stroke="#444" stroke-width="3.5" stroke-linecap="butt"/>
<text font-size="40.8" text-anchor="end" fill="#000" font-weight="bold" stroke="#000" stroke-width="1.6" stroke-linejoin="round" transform="translate(4288 220.6)">brentuximab-vedotin; 5 µg/ml</text>
<rect x="4313" y="241.9" width="721" height="35" fill="#000" stroke="#000" stroke-width="4"/>
<line x1="5034" y1="259.4" x2="5053" y2="259.4" stroke="#444" stroke-width="3.5" stroke-linecap="butt"/>
<line x1="5053" y1="251.4" x2="5053" y2="267.4" stroke="#444" stroke-width="3.5" stroke-linecap="butt"/>
<text font-size="40.8" text-anchor="end" fill="#000" font-weight="bold" stroke="#000" stroke-width="1.6" stroke-linejoin="round" transform="translate(4288 274.4)">brentuximab-vedotin; 7.5 µg/ml</text>
<rect x="4313" y="295.7" width="721" height="35" fill="#000" stroke="#000" stroke-width="4"/>
<line x1="5034" y1="313.2" x2="5048" y2="313.2" stroke="#444" stroke-width="3.5" stroke-linecap="butt"/>
<line x1="5048" y1="305.2" x2="5048" y2="321.2" stroke="#444" stroke-width="3.5" stroke-linecap="butt"/>
<text font-size="40.8" text-anchor="end" fill="#000" font-weight="bold" stroke="#000" stroke-width="1.6" stroke-linejoin="round" transform="translate(4288 328.2)">brentuximab-vedotin; 10 µg/ml</text>
<rect x="4313" y="349.5" width="168" height="35" fill="#fff" stroke="#000" stroke-width="6.5"/>
<line x1="4483" y1="367" x2="4513" y2="367" stroke="#444" stroke-width="3.5" stroke-linecap="butt"/>
<line x1="4513" y1="359" x2="4513" y2="375" stroke="#444" stroke-width="3.5" stroke-linecap="butt"/>
<text font-size="40.8" text-anchor="end" fill="#000" font-weight="bold" stroke="#000" stroke-width="1.6" stroke-linejoin="round" transform="translate(4288 382)">Co</text>
<rect x="4313" y="404.3" width="122" height="33" fill="#6b6b6b" stroke="#444" stroke-width="4"/>
<line x1="4435" y1="420.8" x2="4497" y2="420.8" stroke="#444" stroke-width="3.5" stroke-linecap="butt"/>
<line x1="4497" y1="412.8" x2="4497" y2="428.8" stroke="#444" stroke-width="3.5" stroke-linecap="butt"/>
<text font-size="40.8" text-anchor="end" fill="#000" font-weight="bold" stroke="#000" stroke-width="1.6" stroke-linejoin="round" transform="translate(4288 435.8)">brentuximab-vedotin; 2.5 µg/ml</text>
<rect x="4313" y="458.1" width="75" height="33" fill="#6b6b6b" stroke="#444" stroke-width="4"/>
<line x1="4388" y1="474.6" x2="4412" y2="474.6" stroke="#444" stroke-width="3.5" stroke-linecap="butt"/>
<line x1="4412" y1="466.6" x2="4412" y2="482.6" stroke="#444" stroke-width="3.5" stroke-linecap="butt"/>
<text font-size="40.8" text-anchor="end" fill="#000" font-weight="bold" stroke="#000" stroke-width="1.6" stroke-linejoin="round" transform="translate(4288 489.6)">brentuximab-vedotin; 5 µg/ml</text>
<rect x="4313" y="511.9" width="81" height="33" fill="#6b6b6b" stroke="#444" stroke-width="4"/>
<line x1="4394" y1="528.4" x2="4421" y2="528.4" stroke="#444" stroke-width="3.5" stroke-linecap="butt"/>
<line x1="4421" y1="520.4" x2="4421" y2="536.4" stroke="#444" stroke-width="3.5" stroke-linecap="butt"/>
<text font-size="40.8" text-anchor="end" fill="#000" font-weight="bold" stroke="#000" stroke-width="1.6" stroke-linejoin="round" transform="translate(4288 543.4)">brentuximab-vedotin; 7.5 µg/ml</text>
<rect x="4313" y="565.7" width="75" height="33" fill="#6b6b6b" stroke="#444" stroke-width="4"/>
<line x1="4388" y1="582.2" x2="4412" y2="582.2" stroke="#444" stroke-width="3.5" stroke-linecap="butt"/>
<line x1="4412" y1="574.2" x2="4412" y2="590.2" stroke="#444" stroke-width="3.5" stroke-linecap="butt"/>
<text font-size="40.8" text-anchor="end" fill="#000" font-weight="bold" stroke="#000" stroke-width="1.6" stroke-linejoin="round" transform="translate(4288 597.2)">brentuximab-vedotin; 10 µg/ml</text>
<rect x="4313" y="618.5" width="33" height="35" fill="#fff" stroke="#000" stroke-width="6.5"/>
<line x1="4348" y1="636" x2="4355" y2="636" stroke="#444" stroke-width="3.5" stroke-linecap="butt"/>
<line x1="4355" y1="628" x2="4355" y2="644" stroke="#444" stroke-width="3.5" stroke-linecap="butt"/>
<text font-size="40.8" text-anchor="end" fill="#000" font-weight="bold" stroke="#000" stroke-width="1.6" stroke-linejoin="round" transform="translate(4288 651)">Co</text>
<rect x="4313" y="674.3" width="21" height="31" fill="#bebebe" stroke="#8a8a8a" stroke-width="4"/>
<line x1="4334" y1="689.8" x2="4357" y2="689.8" stroke="#444" stroke-width="3.5" stroke-linecap="butt"/>
<line x1="4357" y1="681.8" x2="4357" y2="697.8" stroke="#444" stroke-width="3.5" stroke-linecap="butt"/>
<text font-size="40.8" text-anchor="end" fill="#000" font-weight="bold" stroke="#000" stroke-width="1.6" stroke-linejoin="round" transform="translate(4288 704.8)">brentuximab-vedotin; 2.5 µg/ml</text>
<rect x="4313" y="728.1" width="29" height="31" fill="#bebebe" stroke="#8a8a8a" stroke-width="4"/>
<line x1="4342" y1="743.6" x2="4361" y2="743.6" stroke="#444" stroke-width="3.5" stroke-linecap="butt"/>
<line x1="4361" y1="735.6" x2="4361" y2="751.6" stroke="#444" stroke-width="3.5" stroke-linecap="butt"/>
<text font-size="40.8" text-anchor="end" fill="#000" font-weight="bold" stroke="#000" stroke-width="1.6" stroke-linejoin="round" transform="translate(4288 758.6)">brentuximab-vedotin; 5 µg/ml</text>
<rect x="4313" y="781.9" width="44" height="31" fill="#bebebe" stroke="#8a8a8a" stroke-width="4"/>
<line x1="4357" y1="797.4" x2="4373" y2="797.4" stroke="#444" stroke-width="3.5" stroke-linecap="butt"/>
<line x1="4373" y1="789.4" x2="4373" y2="805.4" stroke="#444" stroke-width="3.5" stroke-linecap="butt"/>
<text font-size="40.8" text-anchor="end" fill="#000" font-weight="bold" stroke="#000" stroke-width="1.6" stroke-linejoin="round" transform="translate(4288 812.4)">brentuximab-vedotin; 7.5 µg/ml</text>
<rect x="4313" y="835.7" width="54" height="31" fill="#bebebe" stroke="#8a8a8a" stroke-width="4"/>
<line x1="4367" y1="851.2" x2="4387" y2="851.2" stroke="#444" stroke-width="3.5" stroke-linecap="butt"/>
<line x1="4387" y1="843.2" x2="4387" y2="859.2" stroke="#444" stroke-width="3.5" stroke-linecap="butt"/>
<text font-size="40.8" text-anchor="end" fill="#000" font-weight="bold" stroke="#000" stroke-width="1.6" stroke-linejoin="round" transform="translate(4288 866.2)">brentuximab-vedotin; 10 µg/ml</text>
<line x1="4313" y1="74" x2="4313" y2="883" stroke="#000" stroke-width="6" stroke-linecap="butt"/>
<line x1="4310" y1="880" x2="5159" y2="880" stroke="#000" stroke-width="6" stroke-linecap="butt"/>
<line x1="4313" y1="880" x2="4313" y2="894" stroke="#000" stroke-width="5" stroke-linecap="butt"/>
<text font-size="37" text-anchor="middle" fill="#000" font-weight="bold" stroke="#000" stroke-width="1.6" stroke-linejoin="round" transform="translate(4313 938)">0</text>
<line x1="4523.8" y1="880" x2="4523.8" y2="894" stroke="#000" stroke-width="5" stroke-linecap="butt"/>
<text font-size="37" text-anchor="middle" fill="#000" font-weight="bold" stroke="#000" stroke-width="1.6" stroke-linejoin="round" transform="translate(4523.8 938)">25</text>
<line x1="4734.5" y1="880" x2="4734.5" y2="894" stroke="#000" stroke-width="5" stroke-linecap="butt"/>
<text font-size="37" text-anchor="middle" fill="#000" font-weight="bold" stroke="#000" stroke-width="1.6" stroke-linejoin="round" transform="translate(4734.5 938)">50</text>
<line x1="4945.2" y1="880" x2="4945.2" y2="894" stroke="#000" stroke-width="5" stroke-linecap="butt"/>
<text font-size="37" text-anchor="middle" fill="#000" font-weight="bold" stroke="#000" stroke-width="1.6" stroke-linejoin="round" transform="translate(4945.2 938)">75</text>
<line x1="5156" y1="880" x2="5156" y2="894" stroke="#000" stroke-width="5" stroke-linecap="butt"/>
<text font-size="37" text-anchor="middle" fill="#000" font-weight="bold" stroke="#000" stroke-width="1.6" stroke-linejoin="round" transform="translate(5156 938)">100</text>
<text font-size="38.5" text-anchor="middle" fill="#000" font-weight="bold" stroke="#000" stroke-width="1.6" stroke-linejoin="round" transform="translate(4733 991)">Relative cell number (%)</text>
<text font-size="57" text-anchor="end" fill="#000" font-weight="bold" stroke="#000" stroke-width="1.6" stroke-linejoin="round" transform="translate(5136 855)">HMC-1.2</text>
<path d="M3664 83 Q3653 83 3653 91 L3653 208 L3649.5 214 L3653 220 L3653 337 Q3653 345 3662 345" fill="none" stroke="#111" stroke-width="6"/>
<text font-size="36" text-anchor="middle" fill="#000" font-weight="bold" stroke="#000" stroke-width="1.6" stroke-linejoin="round" transform="translate(3585 218.6)">G1</text>
<path d="M3664 352 Q3653 352 3653 360 L3653 477 L3649.5 483 L3653 489 L3653 606 Q3653 614 3662 614" fill="none" stroke="#111" stroke-width="6"/>
<text font-size="36" text-anchor="middle" fill="#000" font-weight="bold" stroke="#000" stroke-width="1.6" stroke-linejoin="round" transform="translate(3585 487.6)">S</text>
<path d="M3664 621 Q3653 621 3653 629 L3653 746 L3649.5 752 L3653 758 L3653 875 Q3653 883 3662 883" fill="none" stroke="#111" stroke-width="6"/>
<text font-size="36" text-anchor="middle" fill="#000" font-weight="bold" stroke="#000" stroke-width="1.6" stroke-linejoin="round" transform="translate(3585 756.6)">G2</text>
<rect x="2657" y="1079.5" width="487" height="35" fill="#fff" stroke="#000" stroke-width="6.5"/>
<line x1="3146" y1="1097" x2="3173" y2="1097" stroke="#444" stroke-width="3.5" stroke-linecap="butt"/>
<line x1="3173" y1="1089" x2="3173" y2="1105" stroke="#444" stroke-width="3.5" stroke-linecap="butt"/>
<text font-size="40.8" text-anchor="end" fill="#000" font-weight="bold" stroke="#000" stroke-width="1.6" stroke-linejoin="round" transform="translate(2632 1112)">Co</text>
<rect x="2657" y="1133.1" width="493" height="35" fill="#000" stroke="#000" stroke-width="4"/>
<line x1="3150" y1="1150.6" x2="3179" y2="1150.6" stroke="#444" stroke-width="3.5" stroke-linecap="butt"/>
<line x1="3179" y1="1142.6" x2="3179" y2="1158.6" stroke="#444" stroke-width="3.5" stroke-linecap="butt"/>
<text font-size="40.8" text-anchor="end" fill="#000" font-weight="bold" stroke="#000" stroke-width="1.6" stroke-linejoin="round" transform="translate(2632 1165.6)">brentuximab-vedotin; 2.5 µg/ml</text>
<rect x="2657" y="1186.7" width="464" height="35" fill="#000" stroke="#000" stroke-width="4"/>
<line x1="3121" y1="1204.2" x2="3150" y2="1204.2" stroke="#444" stroke-width="3.5" stroke-linecap="butt"/>
<line x1="3150" y1="1196.2" x2="3150" y2="1212.2" stroke="#444" stroke-width="3.5" stroke-linecap="butt"/>
<text font-size="40.8" text-anchor="end" fill="#000" font-weight="bold" stroke="#000" stroke-width="1.6" stroke-linejoin="round" transform="translate(2632 1219.2)">brentuximab-vedotin; 5 µg/ml</text>
<rect x="2657" y="1240.3" width="435" height="35" fill="#000" stroke="#000" stroke-width="4"/>
<line x1="3092" y1="1257.8" x2="3117" y2="1257.8" stroke="#444" stroke-width="3.5" stroke-linecap="butt"/>
<line x1="3117" y1="1249.8" x2="3117" y2="1265.8" stroke="#444" stroke-width="3.5" stroke-linecap="butt"/>
<polygon points="3152,1244.8 3156.4,1251.7 3164.4,1253.8 3159.1,1260.1 3159.6,1268.3 3152,1265.3 3144.4,1268.3 3144.9,1260.1 3139.6,1253.8 3147.6,1251.7" fill="#000"/>
<text font-size="40.8" text-anchor="end" fill="#000" font-weight="bold" stroke="#000" stroke-width="1.6" stroke-linejoin="round" transform="translate(2632 1272.8)">brentuximab-vedotin; 7.5 µg/ml</text>
<rect x="2657" y="1293.9" width="406" height="35" fill="#000" stroke="#000" stroke-width="4"/>
<line x1="3063" y1="1311.4" x2="3092" y2="1311.4" stroke="#444" stroke-width="3.5" stroke-linecap="butt"/>
<line x1="3092" y1="1303.4" x2="3092" y2="1319.4" stroke="#444" stroke-width="3.5" stroke-linecap="butt"/>
<polygon points="3123,1298.4 3127.4,1305.3 3135.4,1307.4 3130.1,1313.7 3130.6,1321.9 3123,1318.9 3115.4,1321.9 3115.9,1313.7 3110.6,1307.4 3118.6,1305.3" fill="#000"/>
<text font-size="40.8" text-anchor="end" fill="#000" font-weight="bold" stroke="#000" stroke-width="1.6" stroke-linejoin="round" transform="translate(2632 1326.4)">brentuximab-vedotin; 10 µg/ml</text>
<rect x="2657" y="1347.5" width="278" height="35" fill="#fff" stroke="#000" stroke-width="6.5"/>
<line x1="2937" y1="1365" x2="2957" y2="1365" stroke="#444" stroke-width="3.5" stroke-linecap="butt"/>
<line x1="2957" y1="1357" x2="2957" y2="1373" stroke="#444" stroke-width="3.5" stroke-linecap="butt"/>
<text font-size="40.8" text-anchor="end" fill="#000" font-weight="bold" stroke="#000" stroke-width="1.6" stroke-linejoin="round" transform="translate(2632 1380)">Co</text>
<rect x="2657" y="1402.1" width="280" height="33" fill="#6b6b6b" stroke="#444" stroke-width="4"/>
<line x1="2937" y1="1418.6" x2="2947" y2="1418.6" stroke="#444" stroke-width="3.5" stroke-linecap="butt"/>
<line x1="2947" y1="1410.6" x2="2947" y2="1426.6" stroke="#444" stroke-width="3.5" stroke-linecap="butt"/>
<text font-size="40.8" text-anchor="end" fill="#000" font-weight="bold" stroke="#000" stroke-width="1.6" stroke-linejoin="round" transform="translate(2632 1433.6)">brentuximab-vedotin; 2.5 µg/ml</text>
<rect x="2657" y="1455.7" width="261" height="33" fill="#6b6b6b" stroke="#444" stroke-width="4"/>
<line x1="2918" y1="1472.2" x2="2937" y2="1472.2" stroke="#444" stroke-width="3.5" stroke-linecap="butt"/>
<line x1="2937" y1="1464.2" x2="2937" y2="1480.2" stroke="#444" stroke-width="3.5" stroke-linecap="butt"/>
<text font-size="40.8" text-anchor="end" fill="#000" font-weight="bold" stroke="#000" stroke-width="1.6" stroke-linejoin="round" transform="translate(2632 1487.2)">brentuximab-vedotin; 5 µg/ml</text>
<rect x="2657" y="1509.3" width="261" height="33" fill="#6b6b6b" stroke="#444" stroke-width="4"/>
<line x1="2918" y1="1525.8" x2="2937" y2="1525.8" stroke="#444" stroke-width="3.5" stroke-linecap="butt"/>
<line x1="2937" y1="1517.8" x2="2937" y2="1533.8" stroke="#444" stroke-width="3.5" stroke-linecap="butt"/>
<text font-size="40.8" text-anchor="end" fill="#000" font-weight="bold" stroke="#000" stroke-width="1.6" stroke-linejoin="round" transform="translate(2632 1540.8)">brentuximab-vedotin; 7.5 µg/ml</text>
<rect x="2657" y="1562.9" width="265" height="33" fill="#6b6b6b" stroke="#444" stroke-width="4"/>
<line x1="2922" y1="1579.4" x2="2967" y2="1579.4" stroke="#444" stroke-width="3.5" stroke-linecap="butt"/>
<line x1="2967" y1="1571.4" x2="2967" y2="1587.4" stroke="#444" stroke-width="3.5" stroke-linecap="butt"/>
<text font-size="40.8" text-anchor="end" fill="#000" font-weight="bold" stroke="#000" stroke-width="1.6" stroke-linejoin="round" transform="translate(2632 1594.4)">brentuximab-vedotin; 10 µg/ml</text>
<rect x="2657" y="1615.5" width="46" height="35" fill="#fff" stroke="#000" stroke-width="6.5"/>
<line x1="2705" y1="1633" x2="2721" y2="1633" stroke="#444" stroke-width="3.5" stroke-linecap="butt"/>
<line x1="2721" y1="1625" x2="2721" y2="1641" stroke="#444" stroke-width="3.5" stroke-linecap="butt"/>
<text font-size="40.8" text-anchor="end" fill="#000" font-weight="bold" stroke="#000" stroke-width="1.6" stroke-linejoin="round" transform="translate(2632 1648)">Co</text>
<rect x="2657" y="1671.1" width="64" height="31" fill="#bebebe" stroke="#8a8a8a" stroke-width="4"/>
<line x1="2721" y1="1686.6" x2="2750" y2="1686.6" stroke="#444" stroke-width="3.5" stroke-linecap="butt"/>
<line x1="2750" y1="1678.6" x2="2750" y2="1694.6" stroke="#444" stroke-width="3.5" stroke-linecap="butt"/>
<text font-size="40.8" text-anchor="end" fill="#000" font-weight="bold" stroke="#000" stroke-width="1.6" stroke-linejoin="round" transform="translate(2632 1701.6)">brentuximab-vedotin; 2.5 µg/ml</text>
<rect x="2657" y="1724.7" width="103" height="31" fill="#bebebe" stroke="#8a8a8a" stroke-width="4"/>
<line x1="2760" y1="1740.2" x2="2779" y2="1740.2" stroke="#444" stroke-width="3.5" stroke-linecap="butt"/>
<line x1="2779" y1="1732.2" x2="2779" y2="1748.2" stroke="#444" stroke-width="3.5" stroke-linecap="butt"/>
<text font-size="40.8" text-anchor="end" fill="#000" font-weight="bold" stroke="#000" stroke-width="1.6" stroke-linejoin="round" transform="translate(2632 1755.2)">brentuximab-vedotin; 5 µg/ml</text>
<rect x="2657" y="1778.3" width="145" height="31" fill="#bebebe" stroke="#8a8a8a" stroke-width="4"/>
<line x1="2802" y1="1793.8" x2="2812" y2="1793.8" stroke="#444" stroke-width="3.5" stroke-linecap="butt"/>
<line x1="2812" y1="1785.8" x2="2812" y2="1801.8" stroke="#444" stroke-width="3.5" stroke-linecap="butt"/>
<polygon points="2845,1780.8 2849.4,1787.7 2857.4,1789.8 2852.1,1796.1 2852.6,1804.3 2845,1801.3 2837.4,1804.3 2837.9,1796.1 2832.6,1789.8 2840.6,1787.7" fill="#000"/>
<text font-size="40.8" text-anchor="end" fill="#000" font-weight="bold" stroke="#000" stroke-width="1.6" stroke-linejoin="round" transform="translate(2632 1808.8)">brentuximab-vedotin; 7.5 µg/ml</text>
<rect x="2657" y="1831.9" width="180" height="31" fill="#bebebe" stroke="#8a8a8a" stroke-width="4"/>
<line x1="2837" y1="1847.4" x2="2850" y2="1847.4" stroke="#444" stroke-width="3.5" stroke-linecap="butt"/>
<line x1="2850" y1="1839.4" x2="2850" y2="1855.4" stroke="#444" stroke-width="3.5" stroke-linecap="butt"/>
<polygon points="2876,1834.4 2880.4,1841.3 2888.4,1843.4 2883.1,1849.7 2883.6,1857.9 2876,1854.9 2868.4,1857.9 2868.9,1849.7 2863.6,1843.4 2871.6,1841.3" fill="#000"/>
<text font-size="40.8" text-anchor="end" fill="#000" font-weight="bold" stroke="#000" stroke-width="1.6" stroke-linejoin="round" transform="translate(2632 1862.4)">brentuximab-vedotin; 10 µg/ml</text>
<line x1="2657" y1="1073" x2="2657" y2="1879" stroke="#000" stroke-width="6" stroke-linecap="butt"/>
<line x1="2654" y1="1876" x2="3503" y2="1876" stroke="#000" stroke-width="6" stroke-linecap="butt"/>
<line x1="2657" y1="1876" x2="2657" y2="1890" stroke="#000" stroke-width="5" stroke-linecap="butt"/>
<text font-size="37" text-anchor="middle" fill="#000" font-weight="bold" stroke="#000" stroke-width="1.6" stroke-linejoin="round" transform="translate(2657 1932)">0</text>
<line x1="2867.8" y1="1876" x2="2867.8" y2="1890" stroke="#000" stroke-width="5" stroke-linecap="butt"/>
<text font-size="37" text-anchor="middle" fill="#000" font-weight="bold" stroke="#000" stroke-width="1.6" stroke-linejoin="round" transform="translate(2867.8 1932)">25</text>
<line x1="3078.5" y1="1876" x2="3078.5" y2="1890" stroke="#000" stroke-width="5" stroke-linecap="butt"/>
<text font-size="37" text-anchor="middle" fill="#000" font-weight="bold" stroke="#000" stroke-width="1.6" stroke-linejoin="round" transform="translate(3078.5 1932)">50</text>
<line x1="3289.2" y1="1876" x2="3289.2" y2="1890" stroke="#000" stroke-width="5" stroke-linecap="butt"/>
<text font-size="37" text-anchor="middle" fill="#000" font-weight="bold" stroke="#000" stroke-width="1.6" stroke-linejoin="round" transform="translate(3289.2 1932)">75</text>
<line x1="3500" y1="1876" x2="3500" y2="1890" stroke="#000" stroke-width="5" stroke-linecap="butt"/>
<text font-size="37" text-anchor="middle" fill="#000" font-weight="bold" stroke="#000" stroke-width="1.6" stroke-linejoin="round" transform="translate(3500 1932)">100</text>
<text font-size="38.5" text-anchor="middle" fill="#000" font-weight="bold" stroke="#000" stroke-width="1.6" stroke-linejoin="round" transform="translate(3077 1983)">Relative cell number (%)</text>
<text font-size="57" text-anchor="end" fill="#000" font-weight="bold" stroke="#000" stroke-width="1.6" stroke-linejoin="round" transform="translate(3480 1850)">MCPV-1.1</text>
<path d="M2008 1082 Q1997 1082 1997 1090 L1997 1206.5 L1993.5 1212.5 L1997 1218.5 L1997 1335 Q1997 1343 2006 1343" fill="none" stroke="#111" stroke-width="6"/>
<text font-size="36" text-anchor="middle" fill="#000" font-weight="bold" stroke="#000" stroke-width="1.6" stroke-linejoin="round" transform="translate(1929 1217.2)">G1</text>
<path d="M2008 1350 Q1997 1350 1997 1358 L1997 1474.5 L1993.5 1480.5 L1997 1486.5 L1997 1603 Q1997 1611 2006 1611" fill="none" stroke="#111" stroke-width="6"/>
<text font-size="36" text-anchor="middle" fill="#000" font-weight="bold" stroke="#000" stroke-width="1.6" stroke-linejoin="round" transform="translate(1929 1485.2)">S</text>
<path d="M2008 1618 Q1997 1618 1997 1626 L1997 1742.5 L1993.5 1748.5 L1997 1754.5 L1997 1871 Q1997 1879 2006 1879" fill="none" stroke="#111" stroke-width="6"/>
<text font-size="36" text-anchor="middle" fill="#000" font-weight="bold" stroke="#000" stroke-width="1.6" stroke-linejoin="round" transform="translate(1929 1753.2)">G2</text>
<rect x="4313" y="1079.5" width="513" height="35" fill="#fff" stroke="#000" stroke-width="6.5"/>
<line x1="4828" y1="1097" x2="4860" y2="1097" stroke="#444" stroke-width="3.5" stroke-linecap="butt"/>
<line x1="4860" y1="1089" x2="4860" y2="1105" stroke="#444" stroke-width="3.5" stroke-linecap="butt"/>
<text font-size="40.8" text-anchor="end" fill="#000" font-weight="bold" stroke="#000" stroke-width="1.6" stroke-linejoin="round" transform="translate(4288 1112)">Co</text>
<rect x="4313" y="1133.1" width="532" height="35" fill="#000" stroke="#000" stroke-width="4"/>
<line x1="4845" y1="1150.6" x2="4870" y2="1150.6" stroke="#444" stroke-width="3.5" stroke-linecap="butt"/>
<line x1="4870" y1="1142.6" x2="4870" y2="1158.6" stroke="#444" stroke-width="3.5" stroke-linecap="butt"/>
<text font-size="40.8" text-anchor="end" fill="#000" font-weight="bold" stroke="#000" stroke-width="1.6" stroke-linejoin="round" transform="translate(4288 1165.6)">brentuximab-vedotin; 2.5 µg/ml</text>
<rect x="4313" y="1186.7" width="515" height="35" fill="#000" stroke="#000" stroke-width="4"/>
<line x1="4828" y1="1204.2" x2="4851" y2="1204.2" stroke="#444" stroke-width="3.5" stroke-linecap="butt"/>
<line x1="4851" y1="1196.2" x2="4851" y2="1212.2" stroke="#444" stroke-width="3.5" stroke-linecap="butt"/>
<text font-size="40.8" text-anchor="end" fill="#000" font-weight="bold" stroke="#000" stroke-width="1.6" stroke-linejoin="round" transform="translate(4288 1219.2)">brentuximab-vedotin; 5 µg/ml</text>
<rect x="4313" y="1240.3" width="485" height="35" fill="#000" stroke="#000" stroke-width="4"/>
<line x1="4798" y1="1257.8" x2="4837" y2="1257.8" stroke="#444" stroke-width="3.5" stroke-linecap="butt"/>
<line x1="4837" y1="1249.8" x2="4837" y2="1265.8" stroke="#444" stroke-width="3.5" stroke-linecap="butt"/>
<text font-size="40.8" text-anchor="end" fill="#000" font-weight="bold" stroke="#000" stroke-width="1.6" stroke-linejoin="round" transform="translate(4288 1272.8)">brentuximab-vedotin; 7.5 µg/ml</text>
<rect x="4313" y="1293.9" width="441" height="35" fill="#000" stroke="#000" stroke-width="4"/>
<line x1="4754" y1="1311.4" x2="4798" y2="1311.4" stroke="#444" stroke-width="3.5" stroke-linecap="butt"/>
<line x1="4798" y1="1303.4" x2="4798" y2="1319.4" stroke="#444" stroke-width="3.5" stroke-linecap="butt"/>
<text font-size="40.8" text-anchor="end" fill="#000" font-weight="bold" stroke="#000" stroke-width="1.6" stroke-linejoin="round" transform="translate(4288 1326.4)">brentuximab-vedotin; 10 µg/ml</text>
<rect x="4313" y="1347.5" width="269" height="35" fill="#fff" stroke="#000" stroke-width="6.5"/>
<line x1="4584" y1="1365" x2="4592" y2="1365" stroke="#444" stroke-width="3.5" stroke-linecap="butt"/>
<line x1="4592" y1="1357" x2="4592" y2="1373" stroke="#444" stroke-width="3.5" stroke-linecap="butt"/>
<text font-size="40.8" text-anchor="end" fill="#000" font-weight="bold" stroke="#000" stroke-width="1.6" stroke-linejoin="round" transform="translate(4288 1380)">Co</text>
<rect x="4313" y="1402.1" width="238" height="33" fill="#6b6b6b" stroke="#444" stroke-width="4"/>
<line x1="4551" y1="1418.6" x2="4577" y2="1418.6" stroke="#444" stroke-width="3.5" stroke-linecap="butt"/>
<line x1="4577" y1="1410.6" x2="4577" y2="1426.6" stroke="#444" stroke-width="3.5" stroke-linecap="butt"/>
<text font-size="40.8" text-anchor="end" fill="#000" font-weight="bold" stroke="#000" stroke-width="1.6" stroke-linejoin="round" transform="translate(4288 1433.6)">brentuximab-vedotin; 2.5 µg/ml</text>
<rect x="4313" y="1455.7" width="252" height="33" fill="#6b6b6b" stroke="#444" stroke-width="4"/>
<line x1="4565" y1="1472.2" x2="4578" y2="1472.2" stroke="#444" stroke-width="3.5" stroke-linecap="butt"/>
<line x1="4578" y1="1464.2" x2="4578" y2="1480.2" stroke="#444" stroke-width="3.5" stroke-linecap="butt"/>
<text font-size="40.8" text-anchor="end" fill="#000" font-weight="bold" stroke="#000" stroke-width="1.6" stroke-linejoin="round" transform="translate(4288 1487.2)">brentuximab-vedotin; 5 µg/ml</text>
<rect x="4313" y="1509.3" width="257" height="33" fill="#6b6b6b" stroke="#444" stroke-width="4"/>
<line x1="4570" y1="1525.8" x2="4599" y2="1525.8" stroke="#444" stroke-width="3.5" stroke-linecap="butt"/>
<line x1="4599" y1="1517.8" x2="4599" y2="1533.8" stroke="#444" stroke-width="3.5" stroke-linecap="butt"/>
<text font-size="40.8" text-anchor="end" fill="#000" font-weight="bold" stroke="#000" stroke-width="1.6" stroke-linejoin="round" transform="translate(4288 1540.8)">brentuximab-vedotin; 7.5 µg/ml</text>
<rect x="4313" y="1562.9" width="277" height="33" fill="#6b6b6b" stroke="#444" stroke-width="4"/>
<line x1="4590" y1="1579.4" x2="4619" y2="1579.4" stroke="#444" stroke-width="3.5" stroke-linecap="butt"/>
<line x1="4619" y1="1571.4" x2="4619" y2="1587.4" stroke="#444" stroke-width="3.5" stroke-linecap="butt"/>
<text font-size="40.8" text-anchor="end" fill="#000" font-weight="bold" stroke="#000" stroke-width="1.6" stroke-linejoin="round" transform="translate(4288 1594.4)">brentuximab-vedotin; 10 µg/ml</text>
<rect x="4313" y="1615.5" width="62" height="35" fill="#fff" stroke="#000" stroke-width="6.5"/>
<line x1="4377" y1="1633" x2="4396" y2="1633" stroke="#444" stroke-width="3.5" stroke-linecap="butt"/>
<line x1="4396" y1="1625" x2="4396" y2="1641" stroke="#444" stroke-width="3.5" stroke-linecap="butt"/>
<text font-size="40.8" text-anchor="end" fill="#000" font-weight="bold" stroke="#000" stroke-width="1.6" stroke-linejoin="round" transform="translate(4288 1648)">Co</text>
<rect x="4313" y="1671.1" width="74" height="31" fill="#bebebe" stroke="#8a8a8a" stroke-width="4"/>
<line x1="4387" y1="1686.6" x2="4416" y2="1686.6" stroke="#444" stroke-width="3.5" stroke-linecap="butt"/>
<line x1="4416" y1="1678.6" x2="4416" y2="1694.6" stroke="#444" stroke-width="3.5" stroke-linecap="butt"/>
<text font-size="40.8" text-anchor="end" fill="#000" font-weight="bold" stroke="#000" stroke-width="1.6" stroke-linejoin="round" transform="translate(4288 1701.6)">brentuximab-vedotin; 2.5 µg/ml</text>
<rect x="4313" y="1724.7" width="83" height="31" fill="#bebebe" stroke="#8a8a8a" stroke-width="4"/>
<line x1="4396" y1="1740.2" x2="4425" y2="1740.2" stroke="#444" stroke-width="3.5" stroke-linecap="butt"/>
<line x1="4425" y1="1732.2" x2="4425" y2="1748.2" stroke="#444" stroke-width="3.5" stroke-linecap="butt"/>
<text font-size="40.8" text-anchor="end" fill="#000" font-weight="bold" stroke="#000" stroke-width="1.6" stroke-linejoin="round" transform="translate(4288 1755.2)">brentuximab-vedotin; 5 µg/ml</text>
<rect x="4313" y="1778.3" width="103" height="31" fill="#bebebe" stroke="#8a8a8a" stroke-width="4"/>
<line x1="4416" y1="1793.8" x2="4439" y2="1793.8" stroke="#444" stroke-width="3.5" stroke-linecap="butt"/>
<line x1="4439" y1="1785.8" x2="4439" y2="1801.8" stroke="#444" stroke-width="3.5" stroke-linecap="butt"/>
<text font-size="40.8" text-anchor="end" fill="#000" font-weight="bold" stroke="#000" stroke-width="1.6" stroke-linejoin="round" transform="translate(4288 1808.8)">brentuximab-vedotin; 7.5 µg/ml</text>
<rect x="4313" y="1831.9" width="122" height="31" fill="#bebebe" stroke="#8a8a8a" stroke-width="4"/>
<line x1="4435" y1="1847.4" x2="4464" y2="1847.4" stroke="#444" stroke-width="3.5" stroke-linecap="butt"/>
<line x1="4464" y1="1839.4" x2="4464" y2="1855.4" stroke="#444" stroke-width="3.5" stroke-linecap="butt"/>
<text font-size="40.8" text-anchor="end" fill="#000" font-weight="bold" stroke="#000" stroke-width="1.6" stroke-linejoin="round" transform="translate(4288 1862.4)">brentuximab-vedotin; 10 µg/ml</text>
<line x1="4313" y1="1073" x2="4313" y2="1879" stroke="#000" stroke-width="6" stroke-linecap="butt"/>
<line x1="4310" y1="1876" x2="5159" y2="1876" stroke="#000" stroke-width="6" stroke-linecap="butt"/>
<line x1="4313" y1="1876" x2="4313" y2="1890" stroke="#000" stroke-width="5" stroke-linecap="butt"/>
<text font-size="37" text-anchor="middle" fill="#000" font-weight="bold" stroke="#000" stroke-width="1.6" stroke-linejoin="round" transform="translate(4313 1932)">0</text>
<line x1="4523.8" y1="1876" x2="4523.8" y2="1890" stroke="#000" stroke-width="5" stroke-linecap="butt"/>
<text font-size="37" text-anchor="middle" fill="#000" font-weight="bold" stroke="#000" stroke-width="1.6" stroke-linejoin="round" transform="translate(4523.8 1932)">25</text>
<line x1="4734.5" y1="1876" x2="4734.5" y2="1890" stroke="#000" stroke-width="5" stroke-linecap="butt"/>
<text font-size="37" text-anchor="middle" fill="#000" font-weight="bold" stroke="#000" stroke-width="1.6" stroke-linejoin="round" transform="translate(4734.5 1932)">50</text>
<line x1="4945.2" y1="1876" x2="4945.2" y2="1890" stroke="#000" stroke-width="5" stroke-linecap="butt"/>
<text font-size="37" text-anchor="middle" fill="#000" font-weight="bold" stroke="#000" stroke-width="1.6" stroke-linejoin="round" transform="translate(4945.2 1932)">75</text>
<line x1="5156" y1="1876" x2="5156" y2="1890" stroke="#000" stroke-width="5" stroke-linecap="butt"/>
<text font-size="37" text-anchor="middle" fill="#000" font-weight="bold" stroke="#000" stroke-width="1.6" stroke-linejoin="round" transform="translate(5156 1932)">100</text>
<text font-size="38.5" text-anchor="middle" fill="#000" font-weight="bold" stroke="#000" stroke-width="1.6" stroke-linejoin="round" transform="translate(4733 1983)">Relative cell number (%)</text>
<text font-size="57" text-anchor="end" fill="#000" font-weight="bold" stroke="#000" stroke-width="1.6" stroke-linejoin="round" transform="translate(5136 1850)">MCPV-1.4</text>
<path d="M3664 1082 Q3653 1082 3653 1090 L3653 1206.5 L3649.5 1212.5 L3653 1218.5 L3653 1335 Q3653 1343 3662 1343" fill="none" stroke="#111" stroke-width="6"/>
<text font-size="36" text-anchor="middle" fill="#000" font-weight="bold" stroke="#000" stroke-width="1.6" stroke-linejoin="round" transform="translate(3585 1217.2)">G1</text>
<path d="M3664 1350 Q3653 1350 3653 1358 L3653 1474.5 L3649.5 1480.5 L3653 1486.5 L3653 1603 Q3653 1611 3662 1611" fill="none" stroke="#111" stroke-width="6"/>
<text font-size="36" text-anchor="middle" fill="#000" font-weight="bold" stroke="#000" stroke-width="1.6" stroke-linejoin="round" transform="translate(3585 1485.2)">S</text>
<path d="M3664 1618 Q3653 1618 3653 1626 L3653 1742.5 L3649.5 1748.5 L3653 1754.5 L3653 1871 Q3653 1879 3662 1879" fill="none" stroke="#111" stroke-width="6"/>
<text font-size="36" text-anchor="middle" fill="#000" font-weight="bold" stroke="#000" stroke-width="1.6" stroke-linejoin="round" transform="translate(3585 1753.2)">G2</text>
<rect x="3399" y="2073.5" width="646" height="35" fill="#fff" stroke="#000" stroke-width="6.5"/>
<line x1="4047" y1="2091" x2="4138" y2="2091" stroke="#444" stroke-width="3.5" stroke-linecap="butt"/>
<line x1="4138" y1="2083" x2="4138" y2="2099" stroke="#444" stroke-width="3.5" stroke-linecap="butt"/>
<text font-size="40.8" text-anchor="end" fill="#000" font-weight="bold" stroke="#000" stroke-width="1.6" stroke-linejoin="round" transform="translate(3374 2106)">Co</text>
<rect x="3399" y="2127.5" width="590" height="35" fill="#000" stroke="#000" stroke-width="4"/>
<line x1="3989" y1="2145" x2="4177" y2="2145" stroke="#444" stroke-width="3.5" stroke-linecap="butt"/>
<line x1="4177" y1="2137" x2="4177" y2="2153" stroke="#444" stroke-width="3.5" stroke-linecap="butt"/>
<text font-size="40.8" text-anchor="end" fill="#000" font-weight="bold" stroke="#000" stroke-width="1.6" stroke-linejoin="round" transform="translate(3374 2160)">brentuximab-vedotin; 2.5 µg/ml</text>
<rect x="3399" y="2181.5" width="557" height="35" fill="#000" stroke="#000" stroke-width="4"/>
<line x1="3956" y1="2199" x2="4080" y2="2199" stroke="#444" stroke-width="3.5" stroke-linecap="butt"/>
<line x1="4080" y1="2191" x2="4080" y2="2207" stroke="#444" stroke-width="3.5" stroke-linecap="butt"/>
<text font-size="40.8" text-anchor="end" fill="#000" font-weight="bold" stroke="#000" stroke-width="1.6" stroke-linejoin="round" transform="translate(3374 2214)">brentuximab-vedotin; 5 µg/ml</text>
<rect x="3399" y="2235.5" width="468" height="35" fill="#000" stroke="#000" stroke-width="4"/>
<line x1="3867" y1="2253" x2="3937" y2="2253" stroke="#444" stroke-width="3.5" stroke-linecap="butt"/>
<line x1="3937" y1="2245" x2="3937" y2="2261" stroke="#444" stroke-width="3.5" stroke-linecap="butt"/>
<polygon points="3969,2240 3973.4,2246.9 3981.4,2249 3976.1,2255.3 3976.6,2263.5 3969,2260.5 3961.4,2263.5 3961.9,2255.3 3956.6,2249 3964.6,2246.9" fill="#000"/>
<text font-size="40.8" text-anchor="end" fill="#000" font-weight="bold" stroke="#000" stroke-width="1.6" stroke-linejoin="round" transform="translate(3374 2268)">brentuximab-vedotin; 7.5 µg/ml</text>
<rect x="3399" y="2289.5" width="373" height="35" fill="#000" stroke="#000" stroke-width="4"/>
<line x1="3772" y1="2307" x2="3825" y2="2307" stroke="#444" stroke-width="3.5" stroke-linecap="butt"/>
<line x1="3825" y1="2299" x2="3825" y2="2315" stroke="#444" stroke-width="3.5" stroke-linecap="butt"/>
<polygon points="3859,2294 3863.4,2300.9 3871.4,2303 3866.1,2309.3 3866.6,2317.5 3859,2314.5 3851.4,2317.5 3851.9,2309.3 3846.6,2303 3854.6,2300.9" fill="#000"/>
<text font-size="40.8" text-anchor="end" fill="#000" font-weight="bold" stroke="#000" stroke-width="1.6" stroke-linejoin="round" transform="translate(3374 2322)">brentuximab-vedotin; 10 µg/ml</text>
<rect x="3399" y="2343.5" width="153" height="35" fill="#fff" stroke="#000" stroke-width="6.5"/>
<line x1="3554" y1="2361" x2="3625" y2="2361" stroke="#444" stroke-width="3.5" stroke-linecap="butt"/>
<line x1="3625" y1="2353" x2="3625" y2="2369" stroke="#444" stroke-width="3.5" stroke-linecap="butt"/>
<text font-size="40.8" text-anchor="end" fill="#000" font-weight="bold" stroke="#000" stroke-width="1.6" stroke-linejoin="round" transform="translate(3374 2376)">Co</text>
<rect x="3399" y="2398.5" width="160" height="33" fill="#6b6b6b" stroke="#444" stroke-width="4"/>
<line x1="3559" y1="2415" x2="3666" y2="2415" stroke="#444" stroke-width="3.5" stroke-linecap="butt"/>
<line x1="3666" y1="2407" x2="3666" y2="2423" stroke="#444" stroke-width="3.5" stroke-linecap="butt"/>
<text font-size="40.8" text-anchor="end" fill="#000" font-weight="bold" stroke="#000" stroke-width="1.6" stroke-linejoin="round" transform="translate(3374 2430)">brentuximab-vedotin; 2.5 µg/ml</text>
<rect x="3399" y="2452.5" width="180" height="33" fill="#6b6b6b" stroke="#444" stroke-width="4"/>
<line x1="3579" y1="2469" x2="3649" y2="2469" stroke="#444" stroke-width="3.5" stroke-linecap="butt"/>
<line x1="3649" y1="2461" x2="3649" y2="2477" stroke="#444" stroke-width="3.5" stroke-linecap="butt"/>
<text font-size="40.8" text-anchor="end" fill="#000" font-weight="bold" stroke="#000" stroke-width="1.6" stroke-linejoin="round" transform="translate(3374 2484)">brentuximab-vedotin; 5 µg/ml</text>
<rect x="3399" y="2506.5" width="232" height="33" fill="#6b6b6b" stroke="#444" stroke-width="4"/>
<line x1="3631" y1="2523" x2="3656" y2="2523" stroke="#444" stroke-width="3.5" stroke-linecap="butt"/>
<line x1="3656" y1="2515" x2="3656" y2="2531" stroke="#444" stroke-width="3.5" stroke-linecap="butt"/>
<text font-size="40.8" text-anchor="end" fill="#000" font-weight="bold" stroke="#000" stroke-width="1.6" stroke-linejoin="round" transform="translate(3374 2538)">brentuximab-vedotin; 7.5 µg/ml</text>
<rect x="3399" y="2560.5" width="300" height="33" fill="#6b6b6b" stroke="#444" stroke-width="4"/>
<line x1="3699" y1="2577" x2="3732" y2="2577" stroke="#444" stroke-width="3.5" stroke-linecap="butt"/>
<line x1="3732" y1="2569" x2="3732" y2="2585" stroke="#444" stroke-width="3.5" stroke-linecap="butt"/>
<polygon points="3770,2564 3774.4,2570.9 3782.4,2573 3777.1,2579.3 3777.6,2587.5 3770,2584.5 3762.4,2587.5 3762.9,2579.3 3757.6,2573 3765.6,2570.9" fill="#000"/>
<text font-size="40.8" text-anchor="end" fill="#000" font-weight="bold" stroke="#000" stroke-width="1.6" stroke-linejoin="round" transform="translate(3374 2592)">brentuximab-vedotin; 10 µg/ml</text>
<rect x="3399" y="2613.5" width="37" height="35" fill="#fff" stroke="#000" stroke-width="6.5"/>
<line x1="3438" y1="2631" x2="3461" y2="2631" stroke="#444" stroke-width="3.5" stroke-linecap="butt"/>
<line x1="3461" y1="2623" x2="3461" y2="2639" stroke="#444" stroke-width="3.5" stroke-linecap="butt"/>
<text font-size="40.8" text-anchor="end" fill="#000" font-weight="bold" stroke="#000" stroke-width="1.6" stroke-linejoin="round" transform="translate(3374 2646)">Co</text>
<rect x="3399" y="2669.5" width="62" height="31" fill="#bebebe" stroke="#8a8a8a" stroke-width="4"/>
<line x1="3461" y1="2685" x2="3519" y2="2685" stroke="#444" stroke-width="3.5" stroke-linecap="butt"/>
<line x1="3519" y1="2677" x2="3519" y2="2693" stroke="#444" stroke-width="3.5" stroke-linecap="butt"/>
<text font-size="40.8" text-anchor="end" fill="#000" font-weight="bold" stroke="#000" stroke-width="1.6" stroke-linejoin="round" transform="translate(3374 2700)">brentuximab-vedotin; 2.5 µg/ml</text>
<rect x="3399" y="2723.5" width="106" height="31" fill="#bebebe" stroke="#8a8a8a" stroke-width="4"/>
<line x1="3505" y1="2739" x2="3573" y2="2739" stroke="#444" stroke-width="3.5" stroke-linecap="butt"/>
<line x1="3573" y1="2731" x2="3573" y2="2747" stroke="#444" stroke-width="3.5" stroke-linecap="butt"/>
<text font-size="40.8" text-anchor="end" fill="#000" font-weight="bold" stroke="#000" stroke-width="1.6" stroke-linejoin="round" transform="translate(3374 2754)">brentuximab-vedotin; 5 µg/ml</text>
<rect x="3399" y="2777.5" width="174" height="31" fill="#bebebe" stroke="#8a8a8a" stroke-width="4"/>
<line x1="3573" y1="2793" x2="3583" y2="2793" stroke="#444" stroke-width="3.5" stroke-linecap="butt"/>
<line x1="3583" y1="2785" x2="3583" y2="2801" stroke="#444" stroke-width="3.5" stroke-linecap="butt"/>
<polygon points="3612,2780 3616.4,2786.9 3624.4,2789 3619.1,2795.3 3619.6,2803.5 3612,2800.5 3604.4,2803.5 3604.9,2795.3 3599.6,2789 3607.6,2786.9" fill="#000"/>
<text font-size="40.8" text-anchor="end" fill="#000" font-weight="bold" stroke="#000" stroke-width="1.6" stroke-linejoin="round" transform="translate(3374 2808)">brentuximab-vedotin; 7.5 µg/ml</text>
<rect x="3399" y="2831.5" width="174" height="31" fill="#bebebe" stroke="#8a8a8a" stroke-width="4"/>
<line x1="3573" y1="2847" x2="3596" y2="2847" stroke="#444" stroke-width="3.5" stroke-linecap="butt"/>
<line x1="3596" y1="2839" x2="3596" y2="2855" stroke="#444" stroke-width="3.5" stroke-linecap="butt"/>
<polygon points="3631,2834 3635.4,2840.9 3643.4,2843 3638.1,2849.3 3638.6,2857.5 3631,2854.5 3623.4,2857.5 3623.9,2849.3 3618.6,2843 3626.6,2840.9" fill="#000"/>
<text font-size="40.8" text-anchor="end" fill="#000" font-weight="bold" stroke="#000" stroke-width="1.6" stroke-linejoin="round" transform="translate(3374 2862)">brentuximab-vedotin; 10 µg/ml</text>
<line x1="3399" y1="2067" x2="3399" y2="2878" stroke="#000" stroke-width="6" stroke-linecap="butt"/>
<line x1="3396" y1="2875" x2="4245" y2="2875" stroke="#000" stroke-width="6" stroke-linecap="butt"/>
<line x1="3399" y1="2875" x2="3399" y2="2889" stroke="#000" stroke-width="5" stroke-linecap="butt"/>
<text font-size="37" text-anchor="middle" fill="#000" font-weight="bold" stroke="#000" stroke-width="1.6" stroke-linejoin="round" transform="translate(3399 2935)">0</text>
<line x1="3609.7" y1="2875" x2="3609.7" y2="2889" stroke="#000" stroke-width="5" stroke-linecap="butt"/>
<text font-size="37" text-anchor="middle" fill="#000" font-weight="bold" stroke="#000" stroke-width="1.6" stroke-linejoin="round" transform="translate(3609.7 2935)">25</text>
<line x1="3820.5" y1="2875" x2="3820.5" y2="2889" stroke="#000" stroke-width="5" stroke-linecap="butt"/>
<text font-size="37" text-anchor="middle" fill="#000" font-weight="bold" stroke="#000" stroke-width="1.6" stroke-linejoin="round" transform="translate(3820.5 2935)">50</text>
<line x1="4031.2" y1="2875" x2="4031.2" y2="2889" stroke="#000" stroke-width="5" stroke-linecap="butt"/>
<text font-size="37" text-anchor="middle" fill="#000" font-weight="bold" stroke="#000" stroke-width="1.6" stroke-linejoin="round" transform="translate(4031.2 2935)">75</text>
<line x1="4242" y1="2875" x2="4242" y2="2889" stroke="#000" stroke-width="5" stroke-linecap="butt"/>
<text font-size="37" text-anchor="middle" fill="#000" font-weight="bold" stroke="#000" stroke-width="1.6" stroke-linejoin="round" transform="translate(4242 2935)">100</text>
<text font-size="38.5" text-anchor="middle" fill="#000" font-weight="bold" stroke="#000" stroke-width="1.6" stroke-linejoin="round" transform="translate(3819 2989)">Relative cell number (%)</text>
<text font-size="57" text-anchor="end" fill="#000" font-weight="bold" stroke="#000" stroke-width="1.6" stroke-linejoin="round" transform="translate(4222 2850)">C2</text>
<path d="M2750 2076 Q2739 2076 2739 2084 L2739 2201.5 L2735.5 2207.5 L2739 2213.5 L2739 2331 Q2739 2339 2748 2339" fill="none" stroke="#111" stroke-width="6"/>
<text font-size="36" text-anchor="middle" fill="#000" font-weight="bold" stroke="#000" stroke-width="1.6" stroke-linejoin="round" transform="translate(2671 2212)">G1</text>
<path d="M2750 2346 Q2739 2346 2739 2354 L2739 2471.5 L2735.5 2477.5 L2739 2483.5 L2739 2601 Q2739 2609 2748 2609" fill="none" stroke="#111" stroke-width="6"/>
<text font-size="36" text-anchor="middle" fill="#000" font-weight="bold" stroke="#000" stroke-width="1.6" stroke-linejoin="round" transform="translate(2671 2482)">S</text>
<path d="M2750 2616 Q2739 2616 2739 2624 L2739 2741.5 L2735.5 2747.5 L2739 2753.5 L2739 2871 Q2739 2879 2748 2879" fill="none" stroke="#111" stroke-width="6"/>
<text font-size="36" text-anchor="middle" fill="#000" font-weight="bold" stroke="#000" stroke-width="1.6" stroke-linejoin="round" transform="translate(2671 2752)">G2</text>
</svg>
</body></html>
